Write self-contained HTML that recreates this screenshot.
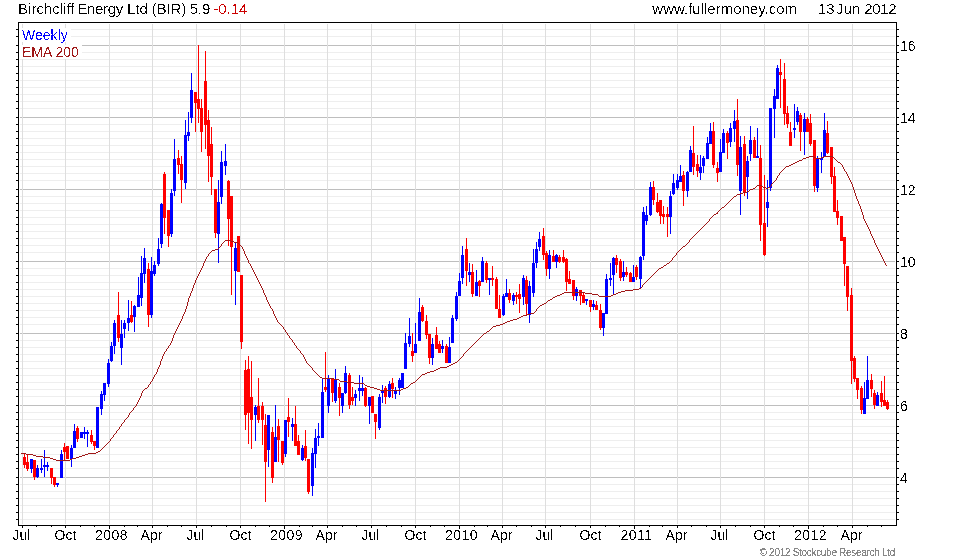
<!DOCTYPE html><html><head><meta charset="utf-8"><style>html,body{margin:0;padding:0;background:#fff;width:980px;height:560px;overflow:hidden}svg{display:block}text{font-family:"Liberation Sans",Arial,sans-serif}</style></head><body><div style="position:relative;width:980px;height:560px"><svg width="980" height="560" viewBox="0 0 980 560" shape-rendering="crispEdges"><rect x="20" y="29" width="875" height="1" fill="#eeeeee"/><rect x="20" y="36" width="875" height="1" fill="#eeeeee"/><rect x="20" y="45" width="875" height="1" fill="#bebebe"/><rect x="20" y="52" width="875" height="1" fill="#eeeeee"/><rect x="20" y="59" width="875" height="1" fill="#eeeeee"/><rect x="20" y="66" width="875" height="1" fill="#eeeeee"/><rect x="20" y="73" width="875" height="1" fill="#eeeeee"/><rect x="20" y="80" width="875" height="1" fill="#eeeeee"/><rect x="20" y="87" width="875" height="1" fill="#eeeeee"/><rect x="20" y="94" width="875" height="1" fill="#eeeeee"/><rect x="20" y="101" width="875" height="1" fill="#eeeeee"/><rect x="20" y="108" width="875" height="1" fill="#eeeeee"/><rect x="20" y="117" width="875" height="1" fill="#bebebe"/><rect x="20" y="124" width="875" height="1" fill="#eeeeee"/><rect x="20" y="131" width="875" height="1" fill="#eeeeee"/><rect x="20" y="138" width="875" height="1" fill="#eeeeee"/><rect x="20" y="145" width="875" height="1" fill="#eeeeee"/><rect x="20" y="152" width="875" height="1" fill="#eeeeee"/><rect x="20" y="159" width="875" height="1" fill="#eeeeee"/><rect x="20" y="166" width="875" height="1" fill="#eeeeee"/><rect x="20" y="173" width="875" height="1" fill="#eeeeee"/><rect x="20" y="180" width="875" height="1" fill="#eeeeee"/><rect x="20" y="189" width="875" height="1" fill="#bebebe"/><rect x="20" y="196" width="875" height="1" fill="#eeeeee"/><rect x="20" y="203" width="875" height="1" fill="#eeeeee"/><rect x="20" y="210" width="875" height="1" fill="#eeeeee"/><rect x="20" y="217" width="875" height="1" fill="#eeeeee"/><rect x="20" y="224" width="875" height="1" fill="#eeeeee"/><rect x="20" y="231" width="875" height="1" fill="#eeeeee"/><rect x="20" y="238" width="875" height="1" fill="#eeeeee"/><rect x="20" y="245" width="875" height="1" fill="#eeeeee"/><rect x="20" y="252" width="875" height="1" fill="#eeeeee"/><rect x="20" y="261" width="875" height="1" fill="#bebebe"/><rect x="20" y="268" width="875" height="1" fill="#eeeeee"/><rect x="20" y="275" width="875" height="1" fill="#eeeeee"/><rect x="20" y="282" width="875" height="1" fill="#eeeeee"/><rect x="20" y="289" width="875" height="1" fill="#eeeeee"/><rect x="20" y="296" width="875" height="1" fill="#eeeeee"/><rect x="20" y="303" width="875" height="1" fill="#eeeeee"/><rect x="20" y="310" width="875" height="1" fill="#eeeeee"/><rect x="20" y="317" width="875" height="1" fill="#eeeeee"/><rect x="20" y="324" width="875" height="1" fill="#eeeeee"/><rect x="20" y="333" width="875" height="1" fill="#bebebe"/><rect x="20" y="340" width="875" height="1" fill="#eeeeee"/><rect x="20" y="347" width="875" height="1" fill="#eeeeee"/><rect x="20" y="354" width="875" height="1" fill="#eeeeee"/><rect x="20" y="361" width="875" height="1" fill="#eeeeee"/><rect x="20" y="368" width="875" height="1" fill="#eeeeee"/><rect x="20" y="375" width="875" height="1" fill="#eeeeee"/><rect x="20" y="382" width="875" height="1" fill="#eeeeee"/><rect x="20" y="389" width="875" height="1" fill="#eeeeee"/><rect x="20" y="396" width="875" height="1" fill="#eeeeee"/><rect x="20" y="405" width="875" height="1" fill="#bebebe"/><rect x="20" y="412" width="875" height="1" fill="#eeeeee"/><rect x="20" y="419" width="875" height="1" fill="#eeeeee"/><rect x="20" y="426" width="875" height="1" fill="#eeeeee"/><rect x="20" y="433" width="875" height="1" fill="#eeeeee"/><rect x="20" y="440" width="875" height="1" fill="#eeeeee"/><rect x="20" y="447" width="875" height="1" fill="#eeeeee"/><rect x="20" y="454" width="875" height="1" fill="#eeeeee"/><rect x="20" y="461" width="875" height="1" fill="#eeeeee"/><rect x="20" y="468" width="875" height="1" fill="#eeeeee"/><rect x="20" y="477" width="875" height="1" fill="#bebebe"/><rect x="20" y="484" width="875" height="1" fill="#eeeeee"/><rect x="20" y="491" width="875" height="1" fill="#eeeeee"/><rect x="20" y="498" width="875" height="1" fill="#eeeeee"/><rect x="20" y="505" width="875" height="1" fill="#eeeeee"/><rect x="20" y="512" width="875" height="1" fill="#eeeeee"/><rect x="20" y="519" width="875" height="1" fill="#eeeeee"/><rect x="22" y="24" width="1" height="500" fill="#dedede"/><rect x="65" y="24" width="1" height="500" fill="#dedede"/><rect x="109" y="24" width="1" height="500" fill="#dedede"/><rect x="152" y="24" width="1" height="500" fill="#dedede"/><rect x="196" y="24" width="1" height="500" fill="#dedede"/><rect x="240" y="24" width="1" height="500" fill="#dedede"/><rect x="284" y="24" width="1" height="500" fill="#dedede"/><rect x="327" y="24" width="1" height="500" fill="#dedede"/><rect x="371" y="24" width="1" height="500" fill="#dedede"/><rect x="415" y="24" width="1" height="500" fill="#dedede"/><rect x="459" y="24" width="1" height="500" fill="#dedede"/><rect x="502" y="24" width="1" height="500" fill="#dedede"/><rect x="545" y="24" width="1" height="500" fill="#dedede"/><rect x="590" y="24" width="1" height="500" fill="#dedede"/><rect x="634" y="24" width="1" height="500" fill="#dedede"/><rect x="677" y="24" width="1" height="500" fill="#dedede"/><rect x="720" y="24" width="1" height="500" fill="#dedede"/><rect x="764" y="24" width="1" height="500" fill="#dedede"/><rect x="808" y="24" width="1" height="500" fill="#dedede"/><rect x="852" y="24" width="1" height="500" fill="#dedede"/><rect x="20" y="28" width="51" height="14" fill="#fff"/><rect x="20" y="45" width="62" height="14" fill="#fff"/><rect x="24" y="453" width="1" height="15" fill="#ff0000"/><rect x="23" y="457" width="3" height="8" fill="#ff0000"/><rect x="27" y="454" width="1" height="17" fill="#ff0000"/><rect x="26" y="462" width="3" height="7" fill="#ff0000"/><rect x="31" y="459" width="1" height="14" fill="#0000ff"/><rect x="30" y="459" width="3" height="10" fill="#0000ff"/><rect x="34" y="460" width="1" height="20" fill="#ff0000"/><rect x="33" y="460" width="3" height="17" fill="#ff0000"/><rect x="37" y="465" width="1" height="13" fill="#0000ff"/><rect x="36" y="468" width="3" height="9" fill="#0000ff"/><rect x="41" y="459" width="1" height="14" fill="#0000ff"/><rect x="40" y="468" width="3" height="2" fill="#0000ff"/><rect x="44" y="450" width="1" height="27" fill="#0000ff"/><rect x="43" y="465" width="3" height="2" fill="#0000ff"/><rect x="47" y="462" width="1" height="9" fill="#0000ff"/><rect x="46" y="465" width="3" height="2" fill="#0000ff"/><rect x="51" y="468" width="1" height="16" fill="#ff0000"/><rect x="50" y="468" width="3" height="10" fill="#ff0000"/><rect x="54" y="477" width="1" height="10" fill="#ff0000"/><rect x="53" y="477" width="3" height="8" fill="#ff0000"/><rect x="57" y="483" width="1" height="4" fill="#0000ff"/><rect x="56" y="483" width="3" height="2" fill="#0000ff"/><rect x="61" y="450" width="1" height="28" fill="#0000ff"/><rect x="60" y="454" width="3" height="24" fill="#0000ff"/><rect x="64" y="443" width="1" height="18" fill="#ff0000"/><rect x="63" y="447" width="3" height="5" fill="#ff0000"/><rect x="67" y="446" width="1" height="13" fill="#ff0000"/><rect x="66" y="446" width="3" height="13" fill="#ff0000"/><rect x="71" y="445" width="1" height="22" fill="#0000ff"/><rect x="70" y="448" width="3" height="11" fill="#0000ff"/><rect x="74" y="424" width="1" height="24" fill="#0000ff"/><rect x="73" y="431" width="3" height="17" fill="#0000ff"/><rect x="77" y="426" width="1" height="16" fill="#ff0000"/><rect x="76" y="428" width="3" height="11" fill="#ff0000"/><rect x="81" y="432" width="1" height="6" fill="#0000ff"/><rect x="80" y="432" width="3" height="6" fill="#0000ff"/><rect x="84" y="427" width="1" height="12" fill="#0000ff"/><rect x="83" y="432" width="3" height="2" fill="#0000ff"/><rect x="87" y="430" width="1" height="17" fill="#0000ff"/><rect x="86" y="432" width="3" height="2" fill="#0000ff"/><rect x="91" y="430" width="1" height="14" fill="#ff0000"/><rect x="90" y="435" width="3" height="7" fill="#ff0000"/><rect x="94" y="441" width="1" height="9" fill="#ff0000"/><rect x="93" y="441" width="3" height="5" fill="#ff0000"/><rect x="97" y="407" width="1" height="41" fill="#0000ff"/><rect x="96" y="407" width="3" height="41" fill="#0000ff"/><rect x="101" y="391" width="1" height="24" fill="#0000ff"/><rect x="100" y="394" width="3" height="15" fill="#0000ff"/><rect x="104" y="383" width="1" height="18" fill="#0000ff"/><rect x="103" y="383" width="3" height="12" fill="#0000ff"/><rect x="108" y="359" width="1" height="28" fill="#0000ff"/><rect x="107" y="363" width="3" height="21" fill="#0000ff"/><rect x="111" y="342" width="1" height="20" fill="#0000ff"/><rect x="110" y="346" width="3" height="15" fill="#0000ff"/><rect x="114" y="320" width="1" height="34" fill="#0000ff"/><rect x="113" y="323" width="3" height="23" fill="#0000ff"/><rect x="118" y="292" width="1" height="50" fill="#ff0000"/><rect x="117" y="315" width="3" height="23" fill="#ff0000"/><rect x="121" y="320" width="1" height="45" fill="#0000ff"/><rect x="120" y="334" width="3" height="14" fill="#0000ff"/><rect x="124" y="320" width="1" height="18" fill="#0000ff"/><rect x="123" y="323" width="3" height="6" fill="#0000ff"/><rect x="128" y="300" width="1" height="31" fill="#0000ff"/><rect x="127" y="318" width="3" height="5" fill="#0000ff"/><rect x="131" y="301" width="1" height="22" fill="#ff0000"/><rect x="130" y="315" width="3" height="7" fill="#ff0000"/><rect x="134" y="305" width="1" height="27" fill="#0000ff"/><rect x="133" y="306" width="3" height="11" fill="#0000ff"/><rect x="138" y="277" width="1" height="30" fill="#0000ff"/><rect x="137" y="295" width="3" height="12" fill="#0000ff"/><rect x="141" y="256" width="1" height="50" fill="#0000ff"/><rect x="140" y="273" width="3" height="25" fill="#0000ff"/><rect x="144" y="248" width="1" height="35" fill="#0000ff"/><rect x="143" y="258" width="3" height="16" fill="#0000ff"/><rect x="148" y="263" width="1" height="64" fill="#ff0000"/><rect x="147" y="269" width="3" height="46" fill="#ff0000"/><rect x="151" y="257" width="1" height="61" fill="#0000ff"/><rect x="150" y="271" width="3" height="44" fill="#0000ff"/><rect x="154" y="261" width="1" height="15" fill="#0000ff"/><rect x="153" y="265" width="3" height="9" fill="#0000ff"/><rect x="158" y="238" width="1" height="28" fill="#0000ff"/><rect x="157" y="249" width="3" height="15" fill="#0000ff"/><rect x="161" y="203" width="1" height="45" fill="#0000ff"/><rect x="160" y="204" width="3" height="40" fill="#0000ff"/><rect x="164" y="172" width="1" height="62" fill="#ff0000"/><rect x="163" y="174" width="3" height="44" fill="#ff0000"/><rect x="168" y="210" width="1" height="37" fill="#ff0000"/><rect x="167" y="210" width="3" height="26" fill="#ff0000"/><rect x="171" y="189" width="1" height="48" fill="#0000ff"/><rect x="170" y="193" width="3" height="41" fill="#0000ff"/><rect x="174" y="139" width="1" height="57" fill="#0000ff"/><rect x="173" y="159" width="3" height="32" fill="#0000ff"/><rect x="178" y="150" width="1" height="24" fill="#ff0000"/><rect x="177" y="158" width="3" height="7" fill="#ff0000"/><rect x="181" y="156" width="1" height="47" fill="#ff0000"/><rect x="180" y="164" width="3" height="16" fill="#ff0000"/><rect x="185" y="120" width="1" height="69" fill="#0000ff"/><rect x="184" y="135" width="3" height="48" fill="#0000ff"/><rect x="188" y="112" width="1" height="29" fill="#0000ff"/><rect x="187" y="132" width="3" height="4" fill="#0000ff"/><rect x="191" y="73" width="1" height="50" fill="#0000ff"/><rect x="190" y="90" width="3" height="28" fill="#0000ff"/><rect x="195" y="92" width="1" height="40" fill="#ff0000"/><rect x="194" y="92" width="3" height="11" fill="#ff0000"/><rect x="198" y="45" width="1" height="78" fill="#ff0000"/><rect x="197" y="99" width="3" height="10" fill="#ff0000"/><rect x="201" y="99" width="1" height="53" fill="#ff0000"/><rect x="200" y="108" width="3" height="24" fill="#ff0000"/><rect x="205" y="51" width="1" height="98" fill="#ff0000"/><rect x="204" y="81" width="3" height="44" fill="#ff0000"/><rect x="208" y="110" width="1" height="72" fill="#ff0000"/><rect x="207" y="120" width="3" height="36" fill="#ff0000"/><rect x="211" y="127" width="1" height="68" fill="#ff0000"/><rect x="210" y="144" width="3" height="33" fill="#ff0000"/><rect x="215" y="189" width="1" height="49" fill="#ff0000"/><rect x="214" y="189" width="3" height="44" fill="#ff0000"/><rect x="218" y="180" width="1" height="83" fill="#0000ff"/><rect x="217" y="202" width="3" height="32" fill="#0000ff"/><rect x="221" y="151" width="1" height="53" fill="#0000ff"/><rect x="220" y="162" width="3" height="35" fill="#0000ff"/><rect x="225" y="144" width="1" height="31" fill="#0000ff"/><rect x="224" y="161" width="3" height="5" fill="#0000ff"/><rect x="228" y="180" width="1" height="66" fill="#ff0000"/><rect x="227" y="181" width="3" height="38" fill="#ff0000"/><rect x="231" y="196" width="1" height="99" fill="#ff0000"/><rect x="230" y="196" width="3" height="51" fill="#ff0000"/><rect x="235" y="242" width="1" height="63" fill="#0000ff"/><rect x="234" y="248" width="3" height="23" fill="#0000ff"/><rect x="238" y="236" width="1" height="36" fill="#ff0000"/><rect x="237" y="236" width="3" height="36" fill="#ff0000"/><rect x="241" y="275" width="1" height="74" fill="#ff0000"/><rect x="240" y="275" width="3" height="67" fill="#ff0000"/><rect x="245" y="360" width="1" height="70" fill="#ff0000"/><rect x="244" y="370" width="3" height="45" fill="#ff0000"/><rect x="248" y="356" width="1" height="88" fill="#ff0000"/><rect x="247" y="369" width="3" height="44" fill="#ff0000"/><rect x="251" y="361" width="1" height="88" fill="#ff0000"/><rect x="250" y="397" width="3" height="23" fill="#ff0000"/><rect x="255" y="405" width="1" height="36" fill="#0000ff"/><rect x="254" y="407" width="3" height="8" fill="#0000ff"/><rect x="258" y="378" width="1" height="45" fill="#ff0000"/><rect x="257" y="406" width="3" height="14" fill="#ff0000"/><rect x="262" y="402" width="1" height="43" fill="#ff0000"/><rect x="261" y="406" width="3" height="14" fill="#ff0000"/><rect x="265" y="414" width="1" height="88" fill="#ff0000"/><rect x="264" y="425" width="3" height="37" fill="#ff0000"/><rect x="268" y="415" width="1" height="52" fill="#0000ff"/><rect x="267" y="415" width="3" height="35" fill="#0000ff"/><rect x="272" y="427" width="1" height="56" fill="#ff0000"/><rect x="271" y="432" width="3" height="46" fill="#ff0000"/><rect x="275" y="405" width="1" height="57" fill="#0000ff"/><rect x="274" y="437" width="3" height="25" fill="#0000ff"/><rect x="278" y="419" width="1" height="43" fill="#ff0000"/><rect x="277" y="426" width="3" height="14" fill="#ff0000"/><rect x="282" y="441" width="1" height="24" fill="#ff0000"/><rect x="281" y="441" width="3" height="22" fill="#ff0000"/><rect x="285" y="420" width="1" height="37" fill="#0000ff"/><rect x="284" y="420" width="3" height="34" fill="#0000ff"/><rect x="288" y="398" width="1" height="39" fill="#ff0000"/><rect x="287" y="417" width="3" height="5" fill="#ff0000"/><rect x="292" y="418" width="1" height="23" fill="#0000ff"/><rect x="291" y="424" width="3" height="3" fill="#0000ff"/><rect x="295" y="406" width="1" height="40" fill="#ff0000"/><rect x="294" y="424" width="3" height="22" fill="#ff0000"/><rect x="298" y="435" width="1" height="20" fill="#ff0000"/><rect x="297" y="441" width="3" height="14" fill="#ff0000"/><rect x="302" y="445" width="1" height="16" fill="#0000ff"/><rect x="301" y="448" width="3" height="12" fill="#0000ff"/><rect x="305" y="430" width="1" height="31" fill="#ff0000"/><rect x="304" y="446" width="3" height="12" fill="#ff0000"/><rect x="308" y="459" width="1" height="35" fill="#ff0000"/><rect x="307" y="459" width="3" height="33" fill="#ff0000"/><rect x="312" y="448" width="1" height="48" fill="#0000ff"/><rect x="311" y="453" width="3" height="33" fill="#0000ff"/><rect x="315" y="429" width="1" height="39" fill="#0000ff"/><rect x="314" y="438" width="3" height="16" fill="#0000ff"/><rect x="318" y="423" width="1" height="23" fill="#0000ff"/><rect x="317" y="436" width="3" height="2" fill="#0000ff"/><rect x="322" y="378" width="1" height="60" fill="#0000ff"/><rect x="321" y="392" width="3" height="46" fill="#0000ff"/><rect x="325" y="352" width="1" height="40" fill="#ff0000"/><rect x="324" y="387" width="3" height="3" fill="#ff0000"/><rect x="328" y="375" width="1" height="38" fill="#0000ff"/><rect x="327" y="379" width="3" height="27" fill="#0000ff"/><rect x="332" y="378" width="1" height="24" fill="#ff0000"/><rect x="331" y="379" width="3" height="14" fill="#ff0000"/><rect x="335" y="369" width="1" height="34" fill="#0000ff"/><rect x="334" y="380" width="3" height="21" fill="#0000ff"/><rect x="339" y="383" width="1" height="33" fill="#ff0000"/><rect x="338" y="387" width="3" height="11" fill="#ff0000"/><rect x="342" y="393" width="1" height="20" fill="#0000ff"/><rect x="341" y="393" width="3" height="13" fill="#0000ff"/><rect x="345" y="366" width="1" height="28" fill="#0000ff"/><rect x="344" y="373" width="3" height="20" fill="#0000ff"/><rect x="349" y="373" width="1" height="36" fill="#ff0000"/><rect x="348" y="375" width="3" height="30" fill="#ff0000"/><rect x="352" y="387" width="1" height="18" fill="#ff0000"/><rect x="351" y="397" width="3" height="4" fill="#ff0000"/><rect x="355" y="390" width="1" height="16" fill="#0000ff"/><rect x="354" y="394" width="3" height="4" fill="#0000ff"/><rect x="359" y="375" width="1" height="26" fill="#0000ff"/><rect x="358" y="388" width="3" height="3" fill="#0000ff"/><rect x="362" y="377" width="1" height="19" fill="#0000ff"/><rect x="361" y="388" width="3" height="3" fill="#0000ff"/><rect x="365" y="387" width="1" height="20" fill="#ff0000"/><rect x="364" y="388" width="3" height="18" fill="#ff0000"/><rect x="369" y="397" width="1" height="27" fill="#0000ff"/><rect x="368" y="397" width="3" height="9" fill="#0000ff"/><rect x="372" y="396" width="1" height="17" fill="#ff0000"/><rect x="371" y="396" width="3" height="17" fill="#ff0000"/><rect x="375" y="414" width="1" height="25" fill="#ff0000"/><rect x="374" y="414" width="3" height="8" fill="#ff0000"/><rect x="379" y="394" width="1" height="36" fill="#0000ff"/><rect x="378" y="397" width="3" height="31" fill="#0000ff"/><rect x="382" y="385" width="1" height="18" fill="#0000ff"/><rect x="381" y="390" width="3" height="3" fill="#0000ff"/><rect x="385" y="386" width="1" height="18" fill="#ff0000"/><rect x="384" y="388" width="3" height="9" fill="#ff0000"/><rect x="389" y="381" width="1" height="17" fill="#0000ff"/><rect x="388" y="384" width="3" height="13" fill="#0000ff"/><rect x="392" y="378" width="1" height="20" fill="#ff0000"/><rect x="391" y="383" width="3" height="6" fill="#ff0000"/><rect x="395" y="387" width="1" height="12" fill="#0000ff"/><rect x="394" y="391" width="3" height="3" fill="#0000ff"/><rect x="399" y="378" width="1" height="17" fill="#0000ff"/><rect x="398" y="380" width="3" height="8" fill="#0000ff"/><rect x="402" y="373" width="1" height="15" fill="#0000ff"/><rect x="401" y="373" width="3" height="15" fill="#0000ff"/><rect x="405" y="333" width="1" height="36" fill="#0000ff"/><rect x="404" y="343" width="3" height="26" fill="#0000ff"/><rect x="409" y="318" width="1" height="29" fill="#0000ff"/><rect x="408" y="336" width="3" height="8" fill="#0000ff"/><rect x="412" y="333" width="1" height="29" fill="#ff0000"/><rect x="411" y="351" width="3" height="5" fill="#ff0000"/><rect x="415" y="323" width="1" height="30" fill="#0000ff"/><rect x="414" y="344" width="3" height="9" fill="#0000ff"/><rect x="419" y="298" width="1" height="43" fill="#0000ff"/><rect x="418" y="312" width="3" height="29" fill="#0000ff"/><rect x="422" y="305" width="1" height="17" fill="#ff0000"/><rect x="421" y="307" width="3" height="14" fill="#ff0000"/><rect x="426" y="315" width="1" height="24" fill="#ff0000"/><rect x="425" y="321" width="3" height="14" fill="#ff0000"/><rect x="429" y="334" width="1" height="30" fill="#ff0000"/><rect x="428" y="334" width="3" height="24" fill="#ff0000"/><rect x="432" y="338" width="1" height="27" fill="#0000ff"/><rect x="431" y="344" width="3" height="14" fill="#0000ff"/><rect x="436" y="327" width="1" height="22" fill="#ff0000"/><rect x="435" y="335" width="3" height="14" fill="#ff0000"/><rect x="439" y="341" width="1" height="12" fill="#ff0000"/><rect x="438" y="344" width="3" height="9" fill="#ff0000"/><rect x="442" y="340" width="1" height="13" fill="#0000ff"/><rect x="441" y="346" width="3" height="3" fill="#0000ff"/><rect x="446" y="344" width="1" height="19" fill="#ff0000"/><rect x="445" y="346" width="3" height="17" fill="#ff0000"/><rect x="449" y="337" width="1" height="26" fill="#0000ff"/><rect x="448" y="347" width="3" height="16" fill="#0000ff"/><rect x="452" y="315" width="1" height="28" fill="#0000ff"/><rect x="451" y="318" width="3" height="25" fill="#0000ff"/><rect x="456" y="292" width="1" height="29" fill="#0000ff"/><rect x="455" y="296" width="3" height="23" fill="#0000ff"/><rect x="459" y="273" width="1" height="23" fill="#0000ff"/><rect x="458" y="281" width="3" height="15" fill="#0000ff"/><rect x="462" y="246" width="1" height="38" fill="#0000ff"/><rect x="461" y="255" width="3" height="23" fill="#0000ff"/><rect x="466" y="238" width="1" height="48" fill="#ff0000"/><rect x="465" y="249" width="3" height="22" fill="#ff0000"/><rect x="469" y="263" width="1" height="19" fill="#0000ff"/><rect x="468" y="272" width="3" height="3" fill="#0000ff"/><rect x="472" y="264" width="1" height="33" fill="#ff0000"/><rect x="471" y="272" width="3" height="22" fill="#ff0000"/><rect x="476" y="270" width="1" height="26" fill="#0000ff"/><rect x="475" y="282" width="3" height="14" fill="#0000ff"/><rect x="479" y="280" width="1" height="17" fill="#ff0000"/><rect x="478" y="281" width="3" height="5" fill="#ff0000"/><rect x="482" y="257" width="1" height="25" fill="#0000ff"/><rect x="481" y="261" width="3" height="21" fill="#0000ff"/><rect x="486" y="261" width="1" height="22" fill="#ff0000"/><rect x="485" y="263" width="3" height="17" fill="#ff0000"/><rect x="489" y="278" width="1" height="17" fill="#0000ff"/><rect x="488" y="278" width="3" height="2" fill="#0000ff"/><rect x="492" y="266" width="1" height="20" fill="#ff0000"/><rect x="491" y="278" width="3" height="2" fill="#ff0000"/><rect x="496" y="277" width="1" height="32" fill="#ff0000"/><rect x="495" y="279" width="3" height="30" fill="#ff0000"/><rect x="499" y="295" width="1" height="23" fill="#ff0000"/><rect x="498" y="309" width="3" height="9" fill="#ff0000"/><rect x="503" y="294" width="1" height="22" fill="#0000ff"/><rect x="502" y="296" width="3" height="19" fill="#0000ff"/><rect x="506" y="279" width="1" height="18" fill="#0000ff"/><rect x="505" y="293" width="3" height="4" fill="#0000ff"/><rect x="509" y="289" width="1" height="14" fill="#ff0000"/><rect x="508" y="293" width="3" height="7" fill="#ff0000"/><rect x="513" y="293" width="1" height="12" fill="#0000ff"/><rect x="512" y="295" width="3" height="6" fill="#0000ff"/><rect x="516" y="292" width="1" height="12" fill="#ff0000"/><rect x="515" y="295" width="3" height="2" fill="#ff0000"/><rect x="519" y="284" width="1" height="29" fill="#ff0000"/><rect x="518" y="294" width="3" height="5" fill="#ff0000"/><rect x="523" y="275" width="1" height="30" fill="#0000ff"/><rect x="522" y="278" width="3" height="19" fill="#0000ff"/><rect x="526" y="276" width="1" height="39" fill="#ff0000"/><rect x="525" y="280" width="3" height="24" fill="#ff0000"/><rect x="529" y="281" width="1" height="42" fill="#0000ff"/><rect x="528" y="286" width="3" height="29" fill="#0000ff"/><rect x="533" y="249" width="1" height="48" fill="#0000ff"/><rect x="532" y="263" width="3" height="30" fill="#0000ff"/><rect x="536" y="242" width="1" height="26" fill="#0000ff"/><rect x="535" y="249" width="3" height="14" fill="#0000ff"/><rect x="539" y="232" width="1" height="19" fill="#0000ff"/><rect x="538" y="239" width="3" height="8" fill="#0000ff"/><rect x="543" y="228" width="1" height="32" fill="#ff0000"/><rect x="542" y="236" width="3" height="19" fill="#ff0000"/><rect x="546" y="251" width="1" height="25" fill="#ff0000"/><rect x="545" y="253" width="3" height="16" fill="#ff0000"/><rect x="549" y="250" width="1" height="29" fill="#0000ff"/><rect x="548" y="255" width="3" height="14" fill="#0000ff"/><rect x="553" y="250" width="1" height="12" fill="#ff0000"/><rect x="552" y="256" width="3" height="6" fill="#ff0000"/><rect x="556" y="254" width="1" height="14" fill="#0000ff"/><rect x="555" y="255" width="3" height="7" fill="#0000ff"/><rect x="559" y="255" width="1" height="8" fill="#ff0000"/><rect x="558" y="257" width="3" height="5" fill="#ff0000"/><rect x="563" y="250" width="1" height="13" fill="#ff0000"/><rect x="562" y="257" width="3" height="5" fill="#ff0000"/><rect x="566" y="258" width="1" height="33" fill="#ff0000"/><rect x="565" y="259" width="3" height="23" fill="#ff0000"/><rect x="569" y="271" width="1" height="13" fill="#ff0000"/><rect x="568" y="279" width="3" height="5" fill="#ff0000"/><rect x="573" y="280" width="1" height="20" fill="#ff0000"/><rect x="572" y="280" width="3" height="16" fill="#ff0000"/><rect x="576" y="287" width="1" height="14" fill="#0000ff"/><rect x="575" y="289" width="3" height="7" fill="#0000ff"/><rect x="580" y="290" width="1" height="15" fill="#ff0000"/><rect x="579" y="290" width="3" height="6" fill="#ff0000"/><rect x="583" y="293" width="1" height="10" fill="#ff0000"/><rect x="582" y="295" width="3" height="8" fill="#ff0000"/><rect x="586" y="299" width="1" height="6" fill="#0000ff"/><rect x="585" y="299" width="3" height="2" fill="#0000ff"/><rect x="590" y="300" width="1" height="12" fill="#ff0000"/><rect x="589" y="300" width="3" height="7" fill="#ff0000"/><rect x="593" y="300" width="1" height="10" fill="#0000ff"/><rect x="592" y="304" width="3" height="3" fill="#0000ff"/><rect x="596" y="301" width="1" height="9" fill="#ff0000"/><rect x="595" y="305" width="3" height="5" fill="#ff0000"/><rect x="600" y="304" width="1" height="26" fill="#ff0000"/><rect x="599" y="310" width="3" height="18" fill="#ff0000"/><rect x="603" y="313" width="1" height="23" fill="#0000ff"/><rect x="602" y="313" width="3" height="15" fill="#0000ff"/><rect x="606" y="274" width="1" height="40" fill="#0000ff"/><rect x="605" y="279" width="3" height="35" fill="#0000ff"/><rect x="610" y="263" width="1" height="23" fill="#0000ff"/><rect x="609" y="278" width="3" height="2" fill="#0000ff"/><rect x="613" y="257" width="1" height="38" fill="#0000ff"/><rect x="612" y="258" width="3" height="17" fill="#0000ff"/><rect x="616" y="255" width="1" height="18" fill="#ff0000"/><rect x="615" y="258" width="3" height="7" fill="#ff0000"/><rect x="620" y="259" width="1" height="22" fill="#ff0000"/><rect x="619" y="261" width="3" height="17" fill="#ff0000"/><rect x="623" y="261" width="1" height="20" fill="#0000ff"/><rect x="622" y="272" width="3" height="5" fill="#0000ff"/><rect x="626" y="267" width="1" height="10" fill="#ff0000"/><rect x="625" y="272" width="3" height="3" fill="#ff0000"/><rect x="630" y="272" width="1" height="10" fill="#ff0000"/><rect x="629" y="273" width="3" height="9" fill="#ff0000"/><rect x="633" y="265" width="1" height="17" fill="#0000ff"/><rect x="632" y="277" width="3" height="5" fill="#0000ff"/><rect x="636" y="265" width="1" height="15" fill="#ff0000"/><rect x="635" y="267" width="3" height="10" fill="#ff0000"/><rect x="640" y="256" width="1" height="32" fill="#0000ff"/><rect x="639" y="257" width="3" height="22" fill="#0000ff"/><rect x="643" y="207" width="1" height="53" fill="#0000ff"/><rect x="642" y="212" width="3" height="44" fill="#0000ff"/><rect x="646" y="206" width="1" height="19" fill="#0000ff"/><rect x="645" y="215" width="3" height="6" fill="#0000ff"/><rect x="650" y="182" width="1" height="34" fill="#0000ff"/><rect x="649" y="187" width="3" height="28" fill="#0000ff"/><rect x="653" y="181" width="1" height="24" fill="#ff0000"/><rect x="652" y="187" width="3" height="13" fill="#ff0000"/><rect x="657" y="193" width="1" height="20" fill="#ff0000"/><rect x="656" y="202" width="3" height="10" fill="#ff0000"/><rect x="660" y="200" width="1" height="24" fill="#ff0000"/><rect x="659" y="200" width="3" height="16" fill="#ff0000"/><rect x="663" y="206" width="1" height="18" fill="#ff0000"/><rect x="662" y="214" width="3" height="3" fill="#ff0000"/><rect x="667" y="207" width="1" height="30" fill="#ff0000"/><rect x="666" y="214" width="3" height="3" fill="#ff0000"/><rect x="670" y="191" width="1" height="43" fill="#0000ff"/><rect x="669" y="196" width="3" height="21" fill="#0000ff"/><rect x="673" y="174" width="1" height="21" fill="#0000ff"/><rect x="672" y="183" width="3" height="11" fill="#0000ff"/><rect x="677" y="174" width="1" height="16" fill="#0000ff"/><rect x="676" y="180" width="3" height="8" fill="#0000ff"/><rect x="680" y="165" width="1" height="17" fill="#0000ff"/><rect x="679" y="176" width="3" height="6" fill="#0000ff"/><rect x="683" y="171" width="1" height="35" fill="#ff0000"/><rect x="682" y="175" width="3" height="16" fill="#ff0000"/><rect x="687" y="171" width="1" height="26" fill="#0000ff"/><rect x="686" y="172" width="3" height="19" fill="#0000ff"/><rect x="690" y="146" width="1" height="26" fill="#0000ff"/><rect x="689" y="150" width="3" height="22" fill="#0000ff"/><rect x="693" y="126" width="1" height="49" fill="#ff0000"/><rect x="692" y="153" width="3" height="14" fill="#ff0000"/><rect x="697" y="155" width="1" height="22" fill="#ff0000"/><rect x="696" y="164" width="3" height="7" fill="#ff0000"/><rect x="700" y="155" width="1" height="25" fill="#0000ff"/><rect x="699" y="167" width="3" height="6" fill="#0000ff"/><rect x="703" y="156" width="1" height="17" fill="#0000ff"/><rect x="702" y="158" width="3" height="8" fill="#0000ff"/><rect x="707" y="137" width="1" height="22" fill="#0000ff"/><rect x="706" y="143" width="3" height="16" fill="#0000ff"/><rect x="710" y="123" width="1" height="21" fill="#0000ff"/><rect x="709" y="131" width="3" height="13" fill="#0000ff"/><rect x="713" y="122" width="1" height="46" fill="#ff0000"/><rect x="712" y="131" width="3" height="34" fill="#ff0000"/><rect x="717" y="162" width="1" height="20" fill="#ff0000"/><rect x="716" y="168" width="3" height="5" fill="#ff0000"/><rect x="720" y="139" width="1" height="33" fill="#0000ff"/><rect x="719" y="152" width="3" height="20" fill="#0000ff"/><rect x="723" y="129" width="1" height="24" fill="#0000ff"/><rect x="722" y="133" width="3" height="20" fill="#0000ff"/><rect x="727" y="131" width="1" height="28" fill="#ff0000"/><rect x="726" y="133" width="3" height="10" fill="#ff0000"/><rect x="730" y="123" width="1" height="24" fill="#0000ff"/><rect x="729" y="128" width="3" height="14" fill="#0000ff"/><rect x="734" y="110" width="1" height="32" fill="#0000ff"/><rect x="733" y="121" width="3" height="8" fill="#0000ff"/><rect x="737" y="99" width="1" height="77" fill="#ff0000"/><rect x="736" y="120" width="3" height="45" fill="#ff0000"/><rect x="740" y="136" width="1" height="79" fill="#0000ff"/><rect x="739" y="147" width="3" height="44" fill="#0000ff"/><rect x="744" y="136" width="1" height="60" fill="#ff0000"/><rect x="743" y="144" width="3" height="49" fill="#ff0000"/><rect x="747" y="156" width="1" height="43" fill="#0000ff"/><rect x="746" y="161" width="3" height="16" fill="#0000ff"/><rect x="750" y="126" width="1" height="35" fill="#0000ff"/><rect x="749" y="140" width="3" height="14" fill="#0000ff"/><rect x="754" y="137" width="1" height="21" fill="#ff0000"/><rect x="753" y="140" width="3" height="18" fill="#ff0000"/><rect x="757" y="128" width="1" height="30" fill="#0000ff"/><rect x="756" y="156" width="3" height="2" fill="#0000ff"/><rect x="760" y="145" width="1" height="96" fill="#ff0000"/><rect x="759" y="158" width="3" height="67" fill="#ff0000"/><rect x="764" y="175" width="1" height="81" fill="#ff0000"/><rect x="763" y="223" width="3" height="32" fill="#ff0000"/><rect x="767" y="180" width="1" height="47" fill="#0000ff"/><rect x="766" y="202" width="3" height="6" fill="#0000ff"/><rect x="770" y="108" width="1" height="83" fill="#0000ff"/><rect x="769" y="108" width="3" height="80" fill="#0000ff"/><rect x="774" y="89" width="1" height="49" fill="#0000ff"/><rect x="773" y="96" width="3" height="13" fill="#0000ff"/><rect x="777" y="65" width="1" height="34" fill="#0000ff"/><rect x="776" y="68" width="3" height="31" fill="#0000ff"/><rect x="780" y="59" width="1" height="49" fill="#ff0000"/><rect x="779" y="72" width="3" height="3" fill="#ff0000"/><rect x="784" y="63" width="1" height="62" fill="#ff0000"/><rect x="783" y="79" width="3" height="35" fill="#ff0000"/><rect x="787" y="106" width="1" height="22" fill="#ff0000"/><rect x="786" y="113" width="3" height="11" fill="#ff0000"/><rect x="790" y="122" width="1" height="24" fill="#ff0000"/><rect x="789" y="132" width="3" height="14" fill="#ff0000"/><rect x="794" y="104" width="1" height="34" fill="#0000ff"/><rect x="793" y="128" width="3" height="2" fill="#0000ff"/><rect x="797" y="107" width="1" height="18" fill="#0000ff"/><rect x="796" y="111" width="3" height="11" fill="#0000ff"/><rect x="800" y="113" width="1" height="38" fill="#ff0000"/><rect x="799" y="115" width="3" height="17" fill="#ff0000"/><rect x="804" y="113" width="1" height="42" fill="#0000ff"/><rect x="803" y="119" width="3" height="13" fill="#0000ff"/><rect x="807" y="117" width="1" height="15" fill="#ff0000"/><rect x="806" y="119" width="3" height="13" fill="#ff0000"/><rect x="810" y="114" width="1" height="32" fill="#ff0000"/><rect x="809" y="123" width="3" height="21" fill="#ff0000"/><rect x="814" y="140" width="1" height="52" fill="#ff0000"/><rect x="813" y="140" width="3" height="46" fill="#ff0000"/><rect x="817" y="156" width="1" height="36" fill="#0000ff"/><rect x="816" y="158" width="3" height="30" fill="#0000ff"/><rect x="821" y="152" width="1" height="21" fill="#0000ff"/><rect x="820" y="158" width="3" height="2" fill="#0000ff"/><rect x="824" y="113" width="1" height="44" fill="#0000ff"/><rect x="823" y="130" width="3" height="27" fill="#0000ff"/><rect x="827" y="121" width="1" height="33" fill="#ff0000"/><rect x="826" y="133" width="3" height="20" fill="#ff0000"/><rect x="831" y="147" width="1" height="37" fill="#ff0000"/><rect x="830" y="147" width="3" height="30" fill="#ff0000"/><rect x="834" y="167" width="1" height="45" fill="#ff0000"/><rect x="833" y="176" width="3" height="36" fill="#ff0000"/><rect x="837" y="200" width="1" height="25" fill="#ff0000"/><rect x="836" y="211" width="3" height="7" fill="#ff0000"/><rect x="841" y="216" width="1" height="25" fill="#ff0000"/><rect x="840" y="216" width="3" height="25" fill="#ff0000"/><rect x="844" y="237" width="1" height="49" fill="#ff0000"/><rect x="843" y="237" width="3" height="27" fill="#ff0000"/><rect x="847" y="266" width="1" height="45" fill="#ff0000"/><rect x="846" y="266" width="3" height="31" fill="#ff0000"/><rect x="851" y="288" width="1" height="96" fill="#ff0000"/><rect x="850" y="295" width="3" height="66" fill="#ff0000"/><rect x="854" y="356" width="1" height="26" fill="#ff0000"/><rect x="853" y="358" width="3" height="21" fill="#ff0000"/><rect x="857" y="378" width="1" height="21" fill="#ff0000"/><rect x="856" y="378" width="3" height="12" fill="#ff0000"/><rect x="861" y="386" width="1" height="28" fill="#ff0000"/><rect x="860" y="388" width="3" height="22" fill="#ff0000"/><rect x="864" y="382" width="1" height="32" fill="#0000ff"/><rect x="863" y="398" width="3" height="16" fill="#0000ff"/><rect x="867" y="356" width="1" height="43" fill="#0000ff"/><rect x="866" y="380" width="3" height="19" fill="#0000ff"/><rect x="871" y="374" width="1" height="23" fill="#ff0000"/><rect x="870" y="380" width="3" height="9" fill="#ff0000"/><rect x="874" y="390" width="1" height="19" fill="#ff0000"/><rect x="873" y="393" width="3" height="12" fill="#ff0000"/><rect x="877" y="392" width="1" height="14" fill="#0000ff"/><rect x="876" y="395" width="3" height="11" fill="#0000ff"/><rect x="881" y="381" width="1" height="26" fill="#ff0000"/><rect x="880" y="393" width="3" height="9" fill="#ff0000"/><rect x="884" y="376" width="1" height="30" fill="#ff0000"/><rect x="883" y="400" width="3" height="6" fill="#ff0000"/><rect x="887" y="400" width="1" height="10" fill="#ff0000"/><rect x="886" y="402" width="3" height="7" fill="#ff0000"/><rect x="21" y="453" width="1" height="1" fill="#a01818"/><rect x="22" y="453" width="1" height="1" fill="#a01818"/><rect x="23" y="453" width="1" height="1" fill="#a01818"/><rect x="24" y="453" width="1" height="1" fill="#a01818"/><rect x="25" y="453" width="1" height="1" fill="#a01818"/><rect x="26" y="454" width="1" height="1" fill="#a01818"/><rect x="27" y="454" width="1" height="1" fill="#a01818"/><rect x="28" y="454" width="1" height="1" fill="#a01818"/><rect x="29" y="454" width="1" height="1" fill="#a01818"/><rect x="30" y="454" width="1" height="1" fill="#a01818"/><rect x="31" y="454" width="1" height="1" fill="#a01818"/><rect x="32" y="454" width="1" height="1" fill="#a01818"/><rect x="33" y="455" width="1" height="1" fill="#a01818"/><rect x="34" y="455" width="1" height="1" fill="#a01818"/><rect x="35" y="455" width="1" height="1" fill="#a01818"/><rect x="36" y="456" width="1" height="1" fill="#a01818"/><rect x="37" y="456" width="1" height="1" fill="#a01818"/><rect x="38" y="456" width="1" height="1" fill="#a01818"/><rect x="39" y="456" width="1" height="1" fill="#a01818"/><rect x="40" y="456" width="1" height="1" fill="#a01818"/><rect x="41" y="456" width="1" height="1" fill="#a01818"/><rect x="42" y="456" width="1" height="1" fill="#a01818"/><rect x="43" y="457" width="1" height="1" fill="#a01818"/><rect x="44" y="457" width="1" height="1" fill="#a01818"/><rect x="45" y="457" width="1" height="1" fill="#a01818"/><rect x="46" y="457" width="1" height="1" fill="#a01818"/><rect x="47" y="457" width="1" height="1" fill="#a01818"/><rect x="48" y="457" width="1" height="1" fill="#a01818"/><rect x="49" y="457" width="1" height="1" fill="#a01818"/><rect x="50" y="458" width="1" height="1" fill="#a01818"/><rect x="51" y="458" width="1" height="1" fill="#a01818"/><rect x="52" y="458" width="1" height="1" fill="#a01818"/><rect x="53" y="459" width="1" height="1" fill="#a01818"/><rect x="54" y="459" width="1" height="1" fill="#a01818"/><rect x="55" y="459" width="1" height="1" fill="#a01818"/><rect x="56" y="460" width="1" height="1" fill="#a01818"/><rect x="57" y="460" width="1" height="1" fill="#a01818"/><rect x="58" y="460" width="1" height="1" fill="#a01818"/><rect x="59" y="460" width="1" height="1" fill="#a01818"/><rect x="60" y="460" width="1" height="1" fill="#a01818"/><rect x="61" y="460" width="1" height="1" fill="#a01818"/><rect x="62" y="460" width="1" height="1" fill="#a01818"/><rect x="63" y="460" width="1" height="1" fill="#a01818"/><rect x="64" y="460" width="1" height="1" fill="#a01818"/><rect x="65" y="460" width="1" height="1" fill="#a01818"/><rect x="66" y="460" width="1" height="1" fill="#a01818"/><rect x="67" y="460" width="1" height="1" fill="#a01818"/><rect x="68" y="460" width="1" height="1" fill="#a01818"/><rect x="69" y="460" width="1" height="1" fill="#a01818"/><rect x="70" y="459" width="1" height="1" fill="#a01818"/><rect x="71" y="459" width="1" height="1" fill="#a01818"/><rect x="72" y="458" width="1" height="1" fill="#a01818"/><rect x="73" y="458" width="1" height="1" fill="#a01818"/><rect x="74" y="458" width="1" height="1" fill="#a01818"/><rect x="75" y="458" width="1" height="1" fill="#a01818"/><rect x="76" y="457" width="1" height="1" fill="#a01818"/><rect x="77" y="457" width="1" height="1" fill="#a01818"/><rect x="78" y="457" width="1" height="1" fill="#a01818"/><rect x="79" y="456" width="1" height="1" fill="#a01818"/><rect x="80" y="456" width="1" height="1" fill="#a01818"/><rect x="81" y="456" width="1" height="1" fill="#a01818"/><rect x="82" y="455" width="1" height="1" fill="#a01818"/><rect x="83" y="455" width="1" height="1" fill="#a01818"/><rect x="84" y="455" width="1" height="1" fill="#a01818"/><rect x="85" y="454" width="1" height="1" fill="#a01818"/><rect x="86" y="454" width="1" height="1" fill="#a01818"/><rect x="87" y="454" width="1" height="1" fill="#a01818"/><rect x="88" y="453" width="1" height="1" fill="#a01818"/><rect x="89" y="453" width="1" height="1" fill="#a01818"/><rect x="90" y="453" width="1" height="1" fill="#a01818"/><rect x="91" y="453" width="1" height="1" fill="#a01818"/><rect x="92" y="453" width="1" height="1" fill="#a01818"/><rect x="93" y="453" width="1" height="1" fill="#a01818"/><rect x="94" y="453" width="1" height="1" fill="#a01818"/><rect x="95" y="453" width="1" height="1" fill="#a01818"/><rect x="96" y="452" width="1" height="1" fill="#a01818"/><rect x="97" y="452" width="1" height="1" fill="#a01818"/><rect x="98" y="451" width="1" height="1" fill="#a01818"/><rect x="99" y="451" width="1" height="1" fill="#a01818"/><rect x="100" y="450" width="1" height="1" fill="#a01818"/><rect x="101" y="449" width="1" height="1" fill="#a01818"/><rect x="102" y="448" width="1" height="1" fill="#a01818"/><rect x="103" y="447" width="1" height="1" fill="#a01818"/><rect x="104" y="446" width="1" height="1" fill="#a01818"/><rect x="105" y="445" width="1" height="1" fill="#a01818"/><rect x="106" y="444" width="1" height="1" fill="#a01818"/><rect x="107" y="443" width="1" height="1" fill="#a01818"/><rect x="108" y="442" width="1" height="1" fill="#a01818"/><rect x="109" y="441" width="1" height="1" fill="#a01818"/><rect x="110" y="439" width="1" height="2" fill="#a01818"/><rect x="111" y="438" width="1" height="1" fill="#a01818"/><rect x="112" y="437" width="1" height="1" fill="#a01818"/><rect x="113" y="435" width="1" height="2" fill="#a01818"/><rect x="114" y="434" width="1" height="1" fill="#a01818"/><rect x="115" y="433" width="1" height="1" fill="#a01818"/><rect x="116" y="431" width="1" height="2" fill="#a01818"/><rect x="117" y="430" width="1" height="1" fill="#a01818"/><rect x="118" y="429" width="1" height="1" fill="#a01818"/><rect x="119" y="427" width="1" height="2" fill="#a01818"/><rect x="120" y="426" width="1" height="1" fill="#a01818"/><rect x="121" y="424" width="1" height="2" fill="#a01818"/><rect x="122" y="423" width="1" height="1" fill="#a01818"/><rect x="123" y="422" width="1" height="1" fill="#a01818"/><rect x="124" y="420" width="1" height="2" fill="#a01818"/><rect x="125" y="419" width="1" height="1" fill="#a01818"/><rect x="126" y="418" width="1" height="1" fill="#a01818"/><rect x="127" y="417" width="1" height="1" fill="#a01818"/><rect x="128" y="415" width="1" height="2" fill="#a01818"/><rect x="129" y="413" width="1" height="2" fill="#a01818"/><rect x="130" y="412" width="1" height="1" fill="#a01818"/><rect x="131" y="411" width="1" height="1" fill="#a01818"/><rect x="132" y="410" width="1" height="1" fill="#a01818"/><rect x="133" y="408" width="1" height="2" fill="#a01818"/><rect x="134" y="407" width="1" height="1" fill="#a01818"/><rect x="135" y="406" width="1" height="1" fill="#a01818"/><rect x="136" y="404" width="1" height="2" fill="#a01818"/><rect x="137" y="402" width="1" height="2" fill="#a01818"/><rect x="138" y="400" width="1" height="2" fill="#a01818"/><rect x="139" y="398" width="1" height="2" fill="#a01818"/><rect x="140" y="396" width="1" height="2" fill="#a01818"/><rect x="141" y="393" width="1" height="3" fill="#a01818"/><rect x="142" y="391" width="1" height="2" fill="#a01818"/><rect x="143" y="390" width="1" height="1" fill="#a01818"/><rect x="144" y="389" width="1" height="1" fill="#a01818"/><rect x="145" y="388" width="1" height="1" fill="#a01818"/><rect x="146" y="388" width="1" height="1" fill="#a01818"/><rect x="147" y="387" width="1" height="1" fill="#a01818"/><rect x="148" y="385" width="1" height="2" fill="#a01818"/><rect x="149" y="384" width="1" height="1" fill="#a01818"/><rect x="150" y="382" width="1" height="2" fill="#a01818"/><rect x="151" y="381" width="1" height="1" fill="#a01818"/><rect x="152" y="379" width="1" height="2" fill="#a01818"/><rect x="153" y="377" width="1" height="2" fill="#a01818"/><rect x="154" y="375" width="1" height="2" fill="#a01818"/><rect x="155" y="374" width="1" height="1" fill="#a01818"/><rect x="156" y="372" width="1" height="2" fill="#a01818"/><rect x="157" y="369" width="1" height="3" fill="#a01818"/><rect x="158" y="367" width="1" height="2" fill="#a01818"/><rect x="159" y="365" width="1" height="2" fill="#a01818"/><rect x="160" y="361" width="1" height="4" fill="#a01818"/><rect x="161" y="359" width="1" height="2" fill="#a01818"/><rect x="162" y="356" width="1" height="3" fill="#a01818"/><rect x="163" y="354" width="1" height="2" fill="#a01818"/><rect x="164" y="352" width="1" height="2" fill="#a01818"/><rect x="165" y="351" width="1" height="1" fill="#a01818"/><rect x="166" y="349" width="1" height="2" fill="#a01818"/><rect x="167" y="348" width="1" height="1" fill="#a01818"/><rect x="168" y="346" width="1" height="2" fill="#a01818"/><rect x="169" y="345" width="1" height="1" fill="#a01818"/><rect x="170" y="343" width="1" height="2" fill="#a01818"/><rect x="171" y="341" width="1" height="2" fill="#a01818"/><rect x="172" y="338" width="1" height="3" fill="#a01818"/><rect x="173" y="335" width="1" height="3" fill="#a01818"/><rect x="174" y="333" width="1" height="2" fill="#a01818"/><rect x="175" y="331" width="1" height="2" fill="#a01818"/><rect x="176" y="329" width="1" height="2" fill="#a01818"/><rect x="177" y="327" width="1" height="2" fill="#a01818"/><rect x="178" y="325" width="1" height="2" fill="#a01818"/><rect x="179" y="323" width="1" height="2" fill="#a01818"/><rect x="180" y="321" width="1" height="2" fill="#a01818"/><rect x="181" y="319" width="1" height="2" fill="#a01818"/><rect x="182" y="316" width="1" height="3" fill="#a01818"/><rect x="183" y="314" width="1" height="2" fill="#a01818"/><rect x="184" y="312" width="1" height="2" fill="#a01818"/><rect x="185" y="309" width="1" height="3" fill="#a01818"/><rect x="186" y="306" width="1" height="3" fill="#a01818"/><rect x="187" y="302" width="1" height="4" fill="#a01818"/><rect x="188" y="298" width="1" height="4" fill="#a01818"/><rect x="189" y="296" width="1" height="2" fill="#a01818"/><rect x="190" y="293" width="1" height="3" fill="#a01818"/><rect x="191" y="291" width="1" height="2" fill="#a01818"/><rect x="192" y="288" width="1" height="3" fill="#a01818"/><rect x="193" y="285" width="1" height="3" fill="#a01818"/><rect x="194" y="283" width="1" height="2" fill="#a01818"/><rect x="195" y="280" width="1" height="3" fill="#a01818"/><rect x="196" y="278" width="1" height="2" fill="#a01818"/><rect x="197" y="276" width="1" height="2" fill="#a01818"/><rect x="198" y="274" width="1" height="2" fill="#a01818"/><rect x="199" y="272" width="1" height="2" fill="#a01818"/><rect x="200" y="270" width="1" height="2" fill="#a01818"/><rect x="201" y="268" width="1" height="2" fill="#a01818"/><rect x="202" y="266" width="1" height="2" fill="#a01818"/><rect x="203" y="263" width="1" height="3" fill="#a01818"/><rect x="204" y="261" width="1" height="2" fill="#a01818"/><rect x="205" y="259" width="1" height="2" fill="#a01818"/><rect x="206" y="257" width="1" height="2" fill="#a01818"/><rect x="207" y="256" width="1" height="1" fill="#a01818"/><rect x="208" y="254" width="1" height="2" fill="#a01818"/><rect x="209" y="253" width="1" height="1" fill="#a01818"/><rect x="210" y="252" width="1" height="1" fill="#a01818"/><rect x="211" y="251" width="1" height="1" fill="#a01818"/><rect x="212" y="250" width="1" height="1" fill="#a01818"/><rect x="213" y="250" width="1" height="1" fill="#a01818"/><rect x="214" y="250" width="1" height="1" fill="#a01818"/><rect x="215" y="249" width="1" height="1" fill="#a01818"/><rect x="216" y="249" width="1" height="1" fill="#a01818"/><rect x="217" y="249" width="1" height="1" fill="#a01818"/><rect x="218" y="248" width="1" height="1" fill="#a01818"/><rect x="219" y="247" width="1" height="1" fill="#a01818"/><rect x="220" y="246" width="1" height="1" fill="#a01818"/><rect x="221" y="244" width="1" height="2" fill="#a01818"/><rect x="222" y="243" width="1" height="1" fill="#a01818"/><rect x="223" y="242" width="1" height="1" fill="#a01818"/><rect x="224" y="241" width="1" height="1" fill="#a01818"/><rect x="225" y="240" width="1" height="1" fill="#a01818"/><rect x="226" y="240" width="1" height="1" fill="#a01818"/><rect x="227" y="240" width="1" height="1" fill="#a01818"/><rect x="228" y="240" width="1" height="1" fill="#a01818"/><rect x="229" y="240" width="1" height="1" fill="#a01818"/><rect x="230" y="240" width="1" height="1" fill="#a01818"/><rect x="231" y="241" width="1" height="1" fill="#a01818"/><rect x="232" y="241" width="1" height="1" fill="#a01818"/><rect x="233" y="241" width="1" height="1" fill="#a01818"/><rect x="234" y="242" width="1" height="1" fill="#a01818"/><rect x="235" y="242" width="1" height="1" fill="#a01818"/><rect x="236" y="242" width="1" height="1" fill="#a01818"/><rect x="237" y="242" width="1" height="1" fill="#a01818"/><rect x="238" y="243" width="1" height="1" fill="#a01818"/><rect x="239" y="244" width="1" height="1" fill="#a01818"/><rect x="240" y="245" width="1" height="1" fill="#a01818"/><rect x="241" y="246" width="1" height="1" fill="#a01818"/><rect x="242" y="247" width="1" height="2" fill="#a01818"/><rect x="243" y="249" width="1" height="2" fill="#a01818"/><rect x="244" y="251" width="1" height="3" fill="#a01818"/><rect x="245" y="254" width="1" height="2" fill="#a01818"/><rect x="246" y="256" width="1" height="2" fill="#a01818"/><rect x="247" y="258" width="1" height="2" fill="#a01818"/><rect x="248" y="260" width="1" height="3" fill="#a01818"/><rect x="249" y="263" width="1" height="1" fill="#a01818"/><rect x="250" y="264" width="1" height="2" fill="#a01818"/><rect x="251" y="266" width="1" height="2" fill="#a01818"/><rect x="252" y="268" width="1" height="2" fill="#a01818"/><rect x="253" y="270" width="1" height="2" fill="#a01818"/><rect x="254" y="272" width="1" height="2" fill="#a01818"/><rect x="255" y="274" width="1" height="2" fill="#a01818"/><rect x="256" y="276" width="1" height="2" fill="#a01818"/><rect x="257" y="278" width="1" height="2" fill="#a01818"/><rect x="258" y="280" width="1" height="2" fill="#a01818"/><rect x="259" y="282" width="1" height="2" fill="#a01818"/><rect x="260" y="284" width="1" height="2" fill="#a01818"/><rect x="261" y="286" width="1" height="2" fill="#a01818"/><rect x="262" y="288" width="1" height="2" fill="#a01818"/><rect x="263" y="290" width="1" height="3" fill="#a01818"/><rect x="264" y="293" width="1" height="2" fill="#a01818"/><rect x="265" y="295" width="1" height="2" fill="#a01818"/><rect x="266" y="297" width="1" height="3" fill="#a01818"/><rect x="267" y="300" width="1" height="2" fill="#a01818"/><rect x="268" y="302" width="1" height="2" fill="#a01818"/><rect x="269" y="304" width="1" height="2" fill="#a01818"/><rect x="270" y="306" width="1" height="2" fill="#a01818"/><rect x="271" y="308" width="1" height="1" fill="#a01818"/><rect x="272" y="309" width="1" height="2" fill="#a01818"/><rect x="273" y="311" width="1" height="3" fill="#a01818"/><rect x="274" y="314" width="1" height="2" fill="#a01818"/><rect x="275" y="316" width="1" height="2" fill="#a01818"/><rect x="276" y="318" width="1" height="2" fill="#a01818"/><rect x="277" y="320" width="1" height="2" fill="#a01818"/><rect x="278" y="322" width="1" height="1" fill="#a01818"/><rect x="279" y="323" width="1" height="1" fill="#a01818"/><rect x="280" y="324" width="1" height="1" fill="#a01818"/><rect x="281" y="325" width="1" height="1" fill="#a01818"/><rect x="282" y="326" width="1" height="1" fill="#a01818"/><rect x="283" y="327" width="1" height="2" fill="#a01818"/><rect x="284" y="329" width="1" height="1" fill="#a01818"/><rect x="285" y="330" width="1" height="2" fill="#a01818"/><rect x="286" y="332" width="1" height="1" fill="#a01818"/><rect x="287" y="333" width="1" height="2" fill="#a01818"/><rect x="288" y="335" width="1" height="1" fill="#a01818"/><rect x="289" y="336" width="1" height="2" fill="#a01818"/><rect x="290" y="338" width="1" height="1" fill="#a01818"/><rect x="291" y="339" width="1" height="1" fill="#a01818"/><rect x="292" y="340" width="1" height="2" fill="#a01818"/><rect x="293" y="342" width="1" height="1" fill="#a01818"/><rect x="294" y="343" width="1" height="2" fill="#a01818"/><rect x="295" y="345" width="1" height="1" fill="#a01818"/><rect x="296" y="346" width="1" height="2" fill="#a01818"/><rect x="297" y="348" width="1" height="1" fill="#a01818"/><rect x="298" y="349" width="1" height="1" fill="#a01818"/><rect x="299" y="350" width="1" height="1" fill="#a01818"/><rect x="300" y="351" width="1" height="2" fill="#a01818"/><rect x="301" y="353" width="1" height="1" fill="#a01818"/><rect x="302" y="354" width="1" height="1" fill="#a01818"/><rect x="303" y="355" width="1" height="2" fill="#a01818"/><rect x="304" y="357" width="1" height="2" fill="#a01818"/><rect x="305" y="359" width="1" height="2" fill="#a01818"/><rect x="306" y="361" width="1" height="2" fill="#a01818"/><rect x="307" y="363" width="1" height="1" fill="#a01818"/><rect x="308" y="364" width="1" height="1" fill="#a01818"/><rect x="309" y="365" width="1" height="1" fill="#a01818"/><rect x="310" y="366" width="1" height="1" fill="#a01818"/><rect x="311" y="367" width="1" height="1" fill="#a01818"/><rect x="312" y="368" width="1" height="2" fill="#a01818"/><rect x="313" y="370" width="1" height="1" fill="#a01818"/><rect x="314" y="371" width="1" height="1" fill="#a01818"/><rect x="315" y="372" width="1" height="1" fill="#a01818"/><rect x="316" y="373" width="1" height="1" fill="#a01818"/><rect x="317" y="374" width="1" height="1" fill="#a01818"/><rect x="318" y="375" width="1" height="1" fill="#a01818"/><rect x="319" y="376" width="1" height="1" fill="#a01818"/><rect x="320" y="377" width="1" height="1" fill="#a01818"/><rect x="321" y="377" width="1" height="1" fill="#a01818"/><rect x="322" y="378" width="1" height="1" fill="#a01818"/><rect x="323" y="378" width="1" height="1" fill="#a01818"/><rect x="324" y="378" width="1" height="1" fill="#a01818"/><rect x="325" y="378" width="1" height="1" fill="#a01818"/><rect x="326" y="378" width="1" height="1" fill="#a01818"/><rect x="327" y="378" width="1" height="1" fill="#a01818"/><rect x="328" y="378" width="1" height="1" fill="#a01818"/><rect x="329" y="378" width="1" height="1" fill="#a01818"/><rect x="330" y="378" width="1" height="1" fill="#a01818"/><rect x="331" y="378" width="1" height="1" fill="#a01818"/><rect x="332" y="378" width="1" height="1" fill="#a01818"/><rect x="333" y="378" width="1" height="1" fill="#a01818"/><rect x="334" y="379" width="1" height="1" fill="#a01818"/><rect x="335" y="379" width="1" height="1" fill="#a01818"/><rect x="336" y="379" width="1" height="1" fill="#a01818"/><rect x="337" y="379" width="1" height="1" fill="#a01818"/><rect x="338" y="379" width="1" height="1" fill="#a01818"/><rect x="339" y="380" width="1" height="1" fill="#a01818"/><rect x="340" y="381" width="1" height="1" fill="#a01818"/><rect x="341" y="381" width="1" height="1" fill="#a01818"/><rect x="342" y="381" width="1" height="1" fill="#a01818"/><rect x="343" y="381" width="1" height="1" fill="#a01818"/><rect x="344" y="381" width="1" height="1" fill="#a01818"/><rect x="345" y="381" width="1" height="1" fill="#a01818"/><rect x="346" y="381" width="1" height="1" fill="#a01818"/><rect x="347" y="382" width="1" height="1" fill="#a01818"/><rect x="348" y="382" width="1" height="1" fill="#a01818"/><rect x="349" y="382" width="1" height="1" fill="#a01818"/><rect x="350" y="382" width="1" height="1" fill="#a01818"/><rect x="351" y="382" width="1" height="1" fill="#a01818"/><rect x="352" y="382" width="1" height="1" fill="#a01818"/><rect x="353" y="382" width="1" height="1" fill="#a01818"/><rect x="354" y="383" width="1" height="1" fill="#a01818"/><rect x="355" y="383" width="1" height="1" fill="#a01818"/><rect x="356" y="383" width="1" height="1" fill="#a01818"/><rect x="357" y="383" width="1" height="1" fill="#a01818"/><rect x="358" y="383" width="1" height="1" fill="#a01818"/><rect x="359" y="383" width="1" height="1" fill="#a01818"/><rect x="360" y="383" width="1" height="1" fill="#a01818"/><rect x="361" y="383" width="1" height="1" fill="#a01818"/><rect x="362" y="383" width="1" height="1" fill="#a01818"/><rect x="363" y="383" width="1" height="1" fill="#a01818"/><rect x="364" y="384" width="1" height="1" fill="#a01818"/><rect x="365" y="385" width="1" height="1" fill="#a01818"/><rect x="366" y="385" width="1" height="1" fill="#a01818"/><rect x="367" y="386" width="1" height="1" fill="#a01818"/><rect x="368" y="386" width="1" height="1" fill="#a01818"/><rect x="369" y="386" width="1" height="1" fill="#a01818"/><rect x="370" y="387" width="1" height="1" fill="#a01818"/><rect x="371" y="387" width="1" height="1" fill="#a01818"/><rect x="372" y="387" width="1" height="1" fill="#a01818"/><rect x="373" y="387" width="1" height="1" fill="#a01818"/><rect x="374" y="388" width="1" height="1" fill="#a01818"/><rect x="375" y="388" width="1" height="1" fill="#a01818"/><rect x="376" y="388" width="1" height="1" fill="#a01818"/><rect x="377" y="389" width="1" height="1" fill="#a01818"/><rect x="378" y="389" width="1" height="1" fill="#a01818"/><rect x="379" y="389" width="1" height="1" fill="#a01818"/><rect x="380" y="390" width="1" height="1" fill="#a01818"/><rect x="381" y="390" width="1" height="1" fill="#a01818"/><rect x="382" y="390" width="1" height="1" fill="#a01818"/><rect x="383" y="390" width="1" height="1" fill="#a01818"/><rect x="384" y="390" width="1" height="1" fill="#a01818"/><rect x="385" y="390" width="1" height="1" fill="#a01818"/><rect x="386" y="390" width="1" height="1" fill="#a01818"/><rect x="387" y="390" width="1" height="1" fill="#a01818"/><rect x="388" y="390" width="1" height="1" fill="#a01818"/><rect x="389" y="390" width="1" height="1" fill="#a01818"/><rect x="390" y="390" width="1" height="1" fill="#a01818"/><rect x="391" y="390" width="1" height="1" fill="#a01818"/><rect x="392" y="390" width="1" height="1" fill="#a01818"/><rect x="393" y="390" width="1" height="1" fill="#a01818"/><rect x="394" y="390" width="1" height="1" fill="#a01818"/><rect x="395" y="390" width="1" height="1" fill="#a01818"/><rect x="396" y="390" width="1" height="1" fill="#a01818"/><rect x="397" y="390" width="1" height="1" fill="#a01818"/><rect x="398" y="390" width="1" height="1" fill="#a01818"/><rect x="399" y="390" width="1" height="1" fill="#a01818"/><rect x="400" y="390" width="1" height="1" fill="#a01818"/><rect x="401" y="389" width="1" height="1" fill="#a01818"/><rect x="402" y="389" width="1" height="1" fill="#a01818"/><rect x="403" y="388" width="1" height="1" fill="#a01818"/><rect x="404" y="388" width="1" height="1" fill="#a01818"/><rect x="405" y="388" width="1" height="1" fill="#a01818"/><rect x="406" y="387" width="1" height="1" fill="#a01818"/><rect x="407" y="387" width="1" height="1" fill="#a01818"/><rect x="408" y="386" width="1" height="1" fill="#a01818"/><rect x="409" y="385" width="1" height="1" fill="#a01818"/><rect x="410" y="384" width="1" height="1" fill="#a01818"/><rect x="411" y="383" width="1" height="1" fill="#a01818"/><rect x="412" y="383" width="1" height="1" fill="#a01818"/><rect x="413" y="382" width="1" height="1" fill="#a01818"/><rect x="414" y="382" width="1" height="1" fill="#a01818"/><rect x="415" y="381" width="1" height="1" fill="#a01818"/><rect x="416" y="380" width="1" height="1" fill="#a01818"/><rect x="417" y="379" width="1" height="1" fill="#a01818"/><rect x="418" y="378" width="1" height="1" fill="#a01818"/><rect x="419" y="377" width="1" height="1" fill="#a01818"/><rect x="420" y="376" width="1" height="1" fill="#a01818"/><rect x="421" y="375" width="1" height="1" fill="#a01818"/><rect x="422" y="374" width="1" height="1" fill="#a01818"/><rect x="423" y="374" width="1" height="1" fill="#a01818"/><rect x="424" y="374" width="1" height="1" fill="#a01818"/><rect x="425" y="373" width="1" height="1" fill="#a01818"/><rect x="426" y="373" width="1" height="1" fill="#a01818"/><rect x="427" y="372" width="1" height="1" fill="#a01818"/><rect x="428" y="372" width="1" height="1" fill="#a01818"/><rect x="429" y="372" width="1" height="1" fill="#a01818"/><rect x="430" y="371" width="1" height="1" fill="#a01818"/><rect x="431" y="371" width="1" height="1" fill="#a01818"/><rect x="432" y="371" width="1" height="1" fill="#a01818"/><rect x="433" y="371" width="1" height="1" fill="#a01818"/><rect x="434" y="370" width="1" height="1" fill="#a01818"/><rect x="435" y="370" width="1" height="1" fill="#a01818"/><rect x="436" y="369" width="1" height="1" fill="#a01818"/><rect x="437" y="369" width="1" height="1" fill="#a01818"/><rect x="438" y="368" width="1" height="1" fill="#a01818"/><rect x="439" y="368" width="1" height="1" fill="#a01818"/><rect x="440" y="367" width="1" height="1" fill="#a01818"/><rect x="441" y="367" width="1" height="1" fill="#a01818"/><rect x="442" y="367" width="1" height="1" fill="#a01818"/><rect x="443" y="367" width="1" height="1" fill="#a01818"/><rect x="444" y="367" width="1" height="1" fill="#a01818"/><rect x="445" y="367" width="1" height="1" fill="#a01818"/><rect x="446" y="367" width="1" height="1" fill="#a01818"/><rect x="447" y="366" width="1" height="1" fill="#a01818"/><rect x="448" y="366" width="1" height="1" fill="#a01818"/><rect x="449" y="365" width="1" height="1" fill="#a01818"/><rect x="450" y="365" width="1" height="1" fill="#a01818"/><rect x="451" y="364" width="1" height="1" fill="#a01818"/><rect x="452" y="364" width="1" height="1" fill="#a01818"/><rect x="453" y="363" width="1" height="1" fill="#a01818"/><rect x="454" y="363" width="1" height="1" fill="#a01818"/><rect x="455" y="362" width="1" height="1" fill="#a01818"/><rect x="456" y="362" width="1" height="1" fill="#a01818"/><rect x="457" y="361" width="1" height="1" fill="#a01818"/><rect x="458" y="360" width="1" height="1" fill="#a01818"/><rect x="459" y="359" width="1" height="1" fill="#a01818"/><rect x="460" y="358" width="1" height="1" fill="#a01818"/><rect x="461" y="357" width="1" height="1" fill="#a01818"/><rect x="462" y="356" width="1" height="1" fill="#a01818"/><rect x="463" y="354" width="1" height="2" fill="#a01818"/><rect x="464" y="353" width="1" height="1" fill="#a01818"/><rect x="465" y="352" width="1" height="1" fill="#a01818"/><rect x="466" y="351" width="1" height="1" fill="#a01818"/><rect x="467" y="350" width="1" height="1" fill="#a01818"/><rect x="468" y="349" width="1" height="1" fill="#a01818"/><rect x="469" y="348" width="1" height="1" fill="#a01818"/><rect x="470" y="347" width="1" height="1" fill="#a01818"/><rect x="471" y="346" width="1" height="1" fill="#a01818"/><rect x="472" y="345" width="1" height="1" fill="#a01818"/><rect x="473" y="344" width="1" height="1" fill="#a01818"/><rect x="474" y="343" width="1" height="1" fill="#a01818"/><rect x="475" y="342" width="1" height="1" fill="#a01818"/><rect x="476" y="341" width="1" height="1" fill="#a01818"/><rect x="477" y="340" width="1" height="1" fill="#a01818"/><rect x="478" y="339" width="1" height="1" fill="#a01818"/><rect x="479" y="338" width="1" height="1" fill="#a01818"/><rect x="480" y="337" width="1" height="1" fill="#a01818"/><rect x="481" y="336" width="1" height="1" fill="#a01818"/><rect x="482" y="335" width="1" height="1" fill="#a01818"/><rect x="483" y="334" width="1" height="1" fill="#a01818"/><rect x="484" y="333" width="1" height="1" fill="#a01818"/><rect x="485" y="333" width="1" height="1" fill="#a01818"/><rect x="486" y="332" width="1" height="1" fill="#a01818"/><rect x="487" y="331" width="1" height="1" fill="#a01818"/><rect x="488" y="331" width="1" height="1" fill="#a01818"/><rect x="489" y="330" width="1" height="1" fill="#a01818"/><rect x="490" y="329" width="1" height="1" fill="#a01818"/><rect x="491" y="328" width="1" height="1" fill="#a01818"/><rect x="492" y="327" width="1" height="1" fill="#a01818"/><rect x="493" y="326" width="1" height="1" fill="#a01818"/><rect x="494" y="326" width="1" height="1" fill="#a01818"/><rect x="495" y="326" width="1" height="1" fill="#a01818"/><rect x="496" y="325" width="1" height="1" fill="#a01818"/><rect x="497" y="325" width="1" height="1" fill="#a01818"/><rect x="498" y="325" width="1" height="1" fill="#a01818"/><rect x="499" y="325" width="1" height="1" fill="#a01818"/><rect x="500" y="324" width="1" height="1" fill="#a01818"/><rect x="501" y="324" width="1" height="1" fill="#a01818"/><rect x="502" y="324" width="1" height="1" fill="#a01818"/><rect x="503" y="323" width="1" height="1" fill="#a01818"/><rect x="504" y="323" width="1" height="1" fill="#a01818"/><rect x="505" y="322" width="1" height="1" fill="#a01818"/><rect x="506" y="322" width="1" height="1" fill="#a01818"/><rect x="507" y="321" width="1" height="1" fill="#a01818"/><rect x="508" y="321" width="1" height="1" fill="#a01818"/><rect x="509" y="321" width="1" height="1" fill="#a01818"/><rect x="510" y="320" width="1" height="1" fill="#a01818"/><rect x="511" y="320" width="1" height="1" fill="#a01818"/><rect x="512" y="320" width="1" height="1" fill="#a01818"/><rect x="513" y="319" width="1" height="1" fill="#a01818"/><rect x="514" y="319" width="1" height="1" fill="#a01818"/><rect x="515" y="319" width="1" height="1" fill="#a01818"/><rect x="516" y="319" width="1" height="1" fill="#a01818"/><rect x="517" y="318" width="1" height="1" fill="#a01818"/><rect x="518" y="318" width="1" height="1" fill="#a01818"/><rect x="519" y="317" width="1" height="1" fill="#a01818"/><rect x="520" y="317" width="1" height="1" fill="#a01818"/><rect x="521" y="316" width="1" height="1" fill="#a01818"/><rect x="522" y="316" width="1" height="1" fill="#a01818"/><rect x="523" y="315" width="1" height="1" fill="#a01818"/><rect x="524" y="315" width="1" height="1" fill="#a01818"/><rect x="525" y="315" width="1" height="1" fill="#a01818"/><rect x="526" y="315" width="1" height="1" fill="#a01818"/><rect x="527" y="314" width="1" height="1" fill="#a01818"/><rect x="528" y="314" width="1" height="1" fill="#a01818"/><rect x="529" y="314" width="1" height="1" fill="#a01818"/><rect x="530" y="313" width="1" height="1" fill="#a01818"/><rect x="531" y="313" width="1" height="1" fill="#a01818"/><rect x="532" y="313" width="1" height="1" fill="#a01818"/><rect x="533" y="313" width="1" height="1" fill="#a01818"/><rect x="534" y="312" width="1" height="1" fill="#a01818"/><rect x="535" y="311" width="1" height="1" fill="#a01818"/><rect x="536" y="309" width="1" height="2" fill="#a01818"/><rect x="537" y="308" width="1" height="1" fill="#a01818"/><rect x="538" y="307" width="1" height="1" fill="#a01818"/><rect x="539" y="306" width="1" height="1" fill="#a01818"/><rect x="540" y="305" width="1" height="1" fill="#a01818"/><rect x="541" y="305" width="1" height="1" fill="#a01818"/><rect x="542" y="304" width="1" height="1" fill="#a01818"/><rect x="543" y="304" width="1" height="1" fill="#a01818"/><rect x="544" y="303" width="1" height="1" fill="#a01818"/><rect x="545" y="303" width="1" height="1" fill="#a01818"/><rect x="546" y="302" width="1" height="1" fill="#a01818"/><rect x="547" y="301" width="1" height="1" fill="#a01818"/><rect x="548" y="300" width="1" height="1" fill="#a01818"/><rect x="549" y="300" width="1" height="1" fill="#a01818"/><rect x="550" y="299" width="1" height="1" fill="#a01818"/><rect x="551" y="299" width="1" height="1" fill="#a01818"/><rect x="552" y="298" width="1" height="1" fill="#a01818"/><rect x="553" y="297" width="1" height="1" fill="#a01818"/><rect x="554" y="297" width="1" height="1" fill="#a01818"/><rect x="555" y="296" width="1" height="1" fill="#a01818"/><rect x="556" y="296" width="1" height="1" fill="#a01818"/><rect x="557" y="295" width="1" height="1" fill="#a01818"/><rect x="558" y="295" width="1" height="1" fill="#a01818"/><rect x="559" y="295" width="1" height="1" fill="#a01818"/><rect x="560" y="294" width="1" height="1" fill="#a01818"/><rect x="561" y="294" width="1" height="1" fill="#a01818"/><rect x="562" y="293" width="1" height="1" fill="#a01818"/><rect x="563" y="293" width="1" height="1" fill="#a01818"/><rect x="564" y="292" width="1" height="1" fill="#a01818"/><rect x="565" y="292" width="1" height="1" fill="#a01818"/><rect x="566" y="292" width="1" height="1" fill="#a01818"/><rect x="567" y="292" width="1" height="1" fill="#a01818"/><rect x="568" y="292" width="1" height="1" fill="#a01818"/><rect x="569" y="292" width="1" height="1" fill="#a01818"/><rect x="570" y="292" width="1" height="1" fill="#a01818"/><rect x="571" y="292" width="1" height="1" fill="#a01818"/><rect x="572" y="292" width="1" height="1" fill="#a01818"/><rect x="573" y="292" width="1" height="1" fill="#a01818"/><rect x="574" y="292" width="1" height="1" fill="#a01818"/><rect x="575" y="292" width="1" height="1" fill="#a01818"/><rect x="576" y="292" width="1" height="1" fill="#a01818"/><rect x="577" y="292" width="1" height="1" fill="#a01818"/><rect x="578" y="292" width="1" height="1" fill="#a01818"/><rect x="579" y="292" width="1" height="1" fill="#a01818"/><rect x="580" y="292" width="1" height="1" fill="#a01818"/><rect x="581" y="292" width="1" height="1" fill="#a01818"/><rect x="582" y="292" width="1" height="1" fill="#a01818"/><rect x="583" y="292" width="1" height="1" fill="#a01818"/><rect x="584" y="292" width="1" height="1" fill="#a01818"/><rect x="585" y="293" width="1" height="1" fill="#a01818"/><rect x="586" y="293" width="1" height="1" fill="#a01818"/><rect x="587" y="293" width="1" height="1" fill="#a01818"/><rect x="588" y="293" width="1" height="1" fill="#a01818"/><rect x="589" y="293" width="1" height="1" fill="#a01818"/><rect x="590" y="293" width="1" height="1" fill="#a01818"/><rect x="591" y="293" width="1" height="1" fill="#a01818"/><rect x="592" y="294" width="1" height="1" fill="#a01818"/><rect x="593" y="294" width="1" height="1" fill="#a01818"/><rect x="594" y="294" width="1" height="1" fill="#a01818"/><rect x="595" y="294" width="1" height="1" fill="#a01818"/><rect x="596" y="294" width="1" height="1" fill="#a01818"/><rect x="597" y="294" width="1" height="1" fill="#a01818"/><rect x="598" y="295" width="1" height="1" fill="#a01818"/><rect x="599" y="296" width="1" height="1" fill="#a01818"/><rect x="600" y="296" width="1" height="1" fill="#a01818"/><rect x="601" y="296" width="1" height="1" fill="#a01818"/><rect x="602" y="296" width="1" height="1" fill="#a01818"/><rect x="603" y="296" width="1" height="1" fill="#a01818"/><rect x="604" y="296" width="1" height="1" fill="#a01818"/><rect x="605" y="296" width="1" height="1" fill="#a01818"/><rect x="606" y="296" width="1" height="1" fill="#a01818"/><rect x="607" y="296" width="1" height="1" fill="#a01818"/><rect x="608" y="296" width="1" height="1" fill="#a01818"/><rect x="609" y="296" width="1" height="1" fill="#a01818"/><rect x="610" y="296" width="1" height="1" fill="#a01818"/><rect x="611" y="295" width="1" height="1" fill="#a01818"/><rect x="612" y="295" width="1" height="1" fill="#a01818"/><rect x="613" y="294" width="1" height="1" fill="#a01818"/><rect x="614" y="294" width="1" height="1" fill="#a01818"/><rect x="615" y="294" width="1" height="1" fill="#a01818"/><rect x="616" y="293" width="1" height="1" fill="#a01818"/><rect x="617" y="293" width="1" height="1" fill="#a01818"/><rect x="618" y="292" width="1" height="1" fill="#a01818"/><rect x="619" y="292" width="1" height="1" fill="#a01818"/><rect x="620" y="292" width="1" height="1" fill="#a01818"/><rect x="621" y="291" width="1" height="1" fill="#a01818"/><rect x="622" y="291" width="1" height="1" fill="#a01818"/><rect x="623" y="291" width="1" height="1" fill="#a01818"/><rect x="624" y="291" width="1" height="1" fill="#a01818"/><rect x="625" y="290" width="1" height="1" fill="#a01818"/><rect x="626" y="290" width="1" height="1" fill="#a01818"/><rect x="627" y="290" width="1" height="1" fill="#a01818"/><rect x="628" y="290" width="1" height="1" fill="#a01818"/><rect x="629" y="290" width="1" height="1" fill="#a01818"/><rect x="630" y="290" width="1" height="1" fill="#a01818"/><rect x="631" y="290" width="1" height="1" fill="#a01818"/><rect x="632" y="290" width="1" height="1" fill="#a01818"/><rect x="633" y="289" width="1" height="1" fill="#a01818"/><rect x="634" y="289" width="1" height="1" fill="#a01818"/><rect x="635" y="289" width="1" height="1" fill="#a01818"/><rect x="636" y="289" width="1" height="1" fill="#a01818"/><rect x="637" y="289" width="1" height="1" fill="#a01818"/><rect x="638" y="289" width="1" height="1" fill="#a01818"/><rect x="639" y="288" width="1" height="1" fill="#a01818"/><rect x="640" y="288" width="1" height="1" fill="#a01818"/><rect x="641" y="287" width="1" height="1" fill="#a01818"/><rect x="642" y="285" width="1" height="2" fill="#a01818"/><rect x="643" y="284" width="1" height="1" fill="#a01818"/><rect x="644" y="283" width="1" height="1" fill="#a01818"/><rect x="645" y="282" width="1" height="1" fill="#a01818"/><rect x="646" y="281" width="1" height="1" fill="#a01818"/><rect x="647" y="280" width="1" height="1" fill="#a01818"/><rect x="648" y="279" width="1" height="1" fill="#a01818"/><rect x="649" y="278" width="1" height="1" fill="#a01818"/><rect x="650" y="277" width="1" height="1" fill="#a01818"/><rect x="651" y="276" width="1" height="1" fill="#a01818"/><rect x="652" y="275" width="1" height="1" fill="#a01818"/><rect x="653" y="274" width="1" height="1" fill="#a01818"/><rect x="654" y="273" width="1" height="1" fill="#a01818"/><rect x="655" y="272" width="1" height="1" fill="#a01818"/><rect x="656" y="271" width="1" height="1" fill="#a01818"/><rect x="657" y="270" width="1" height="1" fill="#a01818"/><rect x="658" y="269" width="1" height="1" fill="#a01818"/><rect x="659" y="268" width="1" height="1" fill="#a01818"/><rect x="660" y="268" width="1" height="1" fill="#a01818"/><rect x="661" y="267" width="1" height="1" fill="#a01818"/><rect x="662" y="267" width="1" height="1" fill="#a01818"/><rect x="663" y="266" width="1" height="1" fill="#a01818"/><rect x="664" y="265" width="1" height="1" fill="#a01818"/><rect x="665" y="265" width="1" height="1" fill="#a01818"/><rect x="666" y="264" width="1" height="1" fill="#a01818"/><rect x="667" y="263" width="1" height="1" fill="#a01818"/><rect x="668" y="263" width="1" height="1" fill="#a01818"/><rect x="669" y="262" width="1" height="1" fill="#a01818"/><rect x="670" y="261" width="1" height="1" fill="#a01818"/><rect x="671" y="260" width="1" height="1" fill="#a01818"/><rect x="672" y="258" width="1" height="2" fill="#a01818"/><rect x="673" y="257" width="1" height="1" fill="#a01818"/><rect x="674" y="256" width="1" height="1" fill="#a01818"/><rect x="675" y="255" width="1" height="1" fill="#a01818"/><rect x="676" y="253" width="1" height="2" fill="#a01818"/><rect x="677" y="252" width="1" height="1" fill="#a01818"/><rect x="678" y="251" width="1" height="1" fill="#a01818"/><rect x="679" y="250" width="1" height="1" fill="#a01818"/><rect x="680" y="249" width="1" height="1" fill="#a01818"/><rect x="681" y="248" width="1" height="1" fill="#a01818"/><rect x="682" y="247" width="1" height="1" fill="#a01818"/><rect x="683" y="246" width="1" height="1" fill="#a01818"/><rect x="684" y="246" width="1" height="1" fill="#a01818"/><rect x="685" y="245" width="1" height="1" fill="#a01818"/><rect x="686" y="244" width="1" height="1" fill="#a01818"/><rect x="687" y="243" width="1" height="1" fill="#a01818"/><rect x="688" y="242" width="1" height="1" fill="#a01818"/><rect x="689" y="240" width="1" height="2" fill="#a01818"/><rect x="690" y="239" width="1" height="1" fill="#a01818"/><rect x="691" y="238" width="1" height="1" fill="#a01818"/><rect x="692" y="237" width="1" height="1" fill="#a01818"/><rect x="693" y="236" width="1" height="1" fill="#a01818"/><rect x="694" y="235" width="1" height="1" fill="#a01818"/><rect x="695" y="234" width="1" height="1" fill="#a01818"/><rect x="696" y="233" width="1" height="1" fill="#a01818"/><rect x="697" y="232" width="1" height="1" fill="#a01818"/><rect x="698" y="231" width="1" height="1" fill="#a01818"/><rect x="699" y="230" width="1" height="1" fill="#a01818"/><rect x="700" y="229" width="1" height="1" fill="#a01818"/><rect x="701" y="228" width="1" height="1" fill="#a01818"/><rect x="702" y="227" width="1" height="1" fill="#a01818"/><rect x="703" y="226" width="1" height="1" fill="#a01818"/><rect x="704" y="225" width="1" height="1" fill="#a01818"/><rect x="705" y="224" width="1" height="1" fill="#a01818"/><rect x="706" y="223" width="1" height="1" fill="#a01818"/><rect x="707" y="222" width="1" height="1" fill="#a01818"/><rect x="708" y="221" width="1" height="1" fill="#a01818"/><rect x="709" y="219" width="1" height="2" fill="#a01818"/><rect x="710" y="218" width="1" height="1" fill="#a01818"/><rect x="711" y="217" width="1" height="1" fill="#a01818"/><rect x="712" y="216" width="1" height="1" fill="#a01818"/><rect x="713" y="215" width="1" height="1" fill="#a01818"/><rect x="714" y="214" width="1" height="1" fill="#a01818"/><rect x="715" y="214" width="1" height="1" fill="#a01818"/><rect x="716" y="213" width="1" height="1" fill="#a01818"/><rect x="717" y="212" width="1" height="2" fill="#a01818"/><rect x="718" y="211" width="1" height="1" fill="#a01818"/><rect x="719" y="210" width="1" height="1" fill="#a01818"/><rect x="720" y="209" width="1" height="1" fill="#a01818"/><rect x="721" y="208" width="1" height="1" fill="#a01818"/><rect x="722" y="207" width="1" height="1" fill="#a01818"/><rect x="723" y="207" width="1" height="1" fill="#a01818"/><rect x="724" y="206" width="1" height="1" fill="#a01818"/><rect x="725" y="205" width="1" height="1" fill="#a01818"/><rect x="726" y="204" width="1" height="1" fill="#a01818"/><rect x="727" y="203" width="1" height="1" fill="#a01818"/><rect x="728" y="202" width="1" height="1" fill="#a01818"/><rect x="729" y="201" width="1" height="1" fill="#a01818"/><rect x="730" y="200" width="1" height="1" fill="#a01818"/><rect x="731" y="199" width="1" height="1" fill="#a01818"/><rect x="732" y="198" width="1" height="1" fill="#a01818"/><rect x="733" y="197" width="1" height="1" fill="#a01818"/><rect x="734" y="196" width="1" height="1" fill="#a01818"/><rect x="735" y="196" width="1" height="1" fill="#a01818"/><rect x="736" y="195" width="1" height="1" fill="#a01818"/><rect x="737" y="194" width="1" height="1" fill="#a01818"/><rect x="738" y="194" width="1" height="1" fill="#a01818"/><rect x="739" y="194" width="1" height="1" fill="#a01818"/><rect x="740" y="193" width="1" height="1" fill="#a01818"/><rect x="741" y="193" width="1" height="1" fill="#a01818"/><rect x="742" y="193" width="1" height="1" fill="#a01818"/><rect x="743" y="192" width="1" height="1" fill="#a01818"/><rect x="744" y="192" width="1" height="1" fill="#a01818"/><rect x="745" y="192" width="1" height="1" fill="#a01818"/><rect x="746" y="192" width="1" height="1" fill="#a01818"/><rect x="747" y="191" width="1" height="1" fill="#a01818"/><rect x="748" y="191" width="1" height="1" fill="#a01818"/><rect x="749" y="190" width="1" height="1" fill="#a01818"/><rect x="750" y="189" width="1" height="1" fill="#a01818"/><rect x="751" y="189" width="1" height="1" fill="#a01818"/><rect x="752" y="189" width="1" height="1" fill="#a01818"/><rect x="753" y="188" width="1" height="1" fill="#a01818"/><rect x="754" y="188" width="1" height="1" fill="#a01818"/><rect x="755" y="187" width="1" height="1" fill="#a01818"/><rect x="756" y="186" width="1" height="1" fill="#a01818"/><rect x="757" y="185" width="1" height="1" fill="#a01818"/><rect x="758" y="185" width="1" height="1" fill="#a01818"/><rect x="759" y="185" width="1" height="1" fill="#a01818"/><rect x="760" y="185" width="1" height="1" fill="#a01818"/><rect x="761" y="185" width="1" height="1" fill="#a01818"/><rect x="762" y="186" width="1" height="1" fill="#a01818"/><rect x="763" y="187" width="1" height="1" fill="#a01818"/><rect x="764" y="187" width="1" height="1" fill="#a01818"/><rect x="765" y="187" width="1" height="1" fill="#a01818"/><rect x="766" y="188" width="1" height="1" fill="#a01818"/><rect x="767" y="188" width="1" height="1" fill="#a01818"/><rect x="768" y="187" width="1" height="1" fill="#a01818"/><rect x="769" y="187" width="1" height="1" fill="#a01818"/><rect x="770" y="186" width="1" height="1" fill="#a01818"/><rect x="771" y="184" width="1" height="2" fill="#a01818"/><rect x="772" y="183" width="1" height="1" fill="#a01818"/><rect x="773" y="182" width="1" height="1" fill="#a01818"/><rect x="774" y="181" width="1" height="1" fill="#a01818"/><rect x="775" y="180" width="1" height="1" fill="#a01818"/><rect x="776" y="178" width="1" height="2" fill="#a01818"/><rect x="777" y="176" width="1" height="2" fill="#a01818"/><rect x="778" y="175" width="1" height="1" fill="#a01818"/><rect x="779" y="173" width="1" height="2" fill="#a01818"/><rect x="780" y="172" width="1" height="1" fill="#a01818"/><rect x="781" y="171" width="1" height="1" fill="#a01818"/><rect x="782" y="170" width="1" height="1" fill="#a01818"/><rect x="783" y="169" width="1" height="1" fill="#a01818"/><rect x="784" y="168" width="1" height="1" fill="#a01818"/><rect x="785" y="167" width="1" height="1" fill="#a01818"/><rect x="786" y="166" width="1" height="1" fill="#a01818"/><rect x="787" y="166" width="1" height="1" fill="#a01818"/><rect x="788" y="166" width="1" height="1" fill="#a01818"/><rect x="789" y="165" width="1" height="1" fill="#a01818"/><rect x="790" y="165" width="1" height="1" fill="#a01818"/><rect x="791" y="164" width="1" height="1" fill="#a01818"/><rect x="792" y="164" width="1" height="1" fill="#a01818"/><rect x="793" y="163" width="1" height="1" fill="#a01818"/><rect x="794" y="163" width="1" height="1" fill="#a01818"/><rect x="795" y="162" width="1" height="1" fill="#a01818"/><rect x="796" y="162" width="1" height="1" fill="#a01818"/><rect x="797" y="161" width="1" height="1" fill="#a01818"/><rect x="798" y="161" width="1" height="1" fill="#a01818"/><rect x="799" y="160" width="1" height="1" fill="#a01818"/><rect x="800" y="160" width="1" height="1" fill="#a01818"/><rect x="801" y="160" width="1" height="1" fill="#a01818"/><rect x="802" y="159" width="1" height="1" fill="#a01818"/><rect x="803" y="158" width="1" height="1" fill="#a01818"/><rect x="804" y="158" width="1" height="1" fill="#a01818"/><rect x="805" y="158" width="1" height="1" fill="#a01818"/><rect x="806" y="157" width="1" height="1" fill="#a01818"/><rect x="807" y="157" width="1" height="1" fill="#a01818"/><rect x="808" y="157" width="1" height="1" fill="#a01818"/><rect x="809" y="156" width="1" height="1" fill="#a01818"/><rect x="810" y="156" width="1" height="1" fill="#a01818"/><rect x="811" y="156" width="1" height="1" fill="#a01818"/><rect x="812" y="156" width="1" height="1" fill="#a01818"/><rect x="813" y="156" width="1" height="1" fill="#a01818"/><rect x="814" y="157" width="1" height="1" fill="#a01818"/><rect x="815" y="157" width="1" height="1" fill="#a01818"/><rect x="816" y="158" width="1" height="1" fill="#a01818"/><rect x="817" y="158" width="1" height="1" fill="#a01818"/><rect x="818" y="158" width="1" height="1" fill="#a01818"/><rect x="819" y="158" width="1" height="1" fill="#a01818"/><rect x="820" y="158" width="1" height="1" fill="#a01818"/><rect x="821" y="157" width="1" height="1" fill="#a01818"/><rect x="822" y="157" width="1" height="1" fill="#a01818"/><rect x="823" y="157" width="1" height="1" fill="#a01818"/><rect x="824" y="156" width="1" height="1" fill="#a01818"/><rect x="825" y="156" width="1" height="1" fill="#a01818"/><rect x="826" y="156" width="1" height="1" fill="#a01818"/><rect x="827" y="156" width="1" height="1" fill="#a01818"/><rect x="828" y="156" width="1" height="1" fill="#a01818"/><rect x="829" y="156" width="1" height="1" fill="#a01818"/><rect x="830" y="156" width="1" height="1" fill="#a01818"/><rect x="831" y="156" width="1" height="1" fill="#a01818"/><rect x="832" y="156" width="1" height="1" fill="#a01818"/><rect x="833" y="157" width="1" height="1" fill="#a01818"/><rect x="834" y="158" width="1" height="1" fill="#a01818"/><rect x="835" y="159" width="1" height="1" fill="#a01818"/><rect x="836" y="160" width="1" height="1" fill="#a01818"/><rect x="837" y="161" width="1" height="1" fill="#a01818"/><rect x="838" y="162" width="1" height="1" fill="#a01818"/><rect x="839" y="162" width="1" height="1" fill="#a01818"/><rect x="840" y="163" width="1" height="1" fill="#a01818"/><rect x="841" y="164" width="1" height="1" fill="#a01818"/><rect x="842" y="165" width="1" height="2" fill="#a01818"/><rect x="843" y="167" width="1" height="2" fill="#a01818"/><rect x="844" y="169" width="1" height="2" fill="#a01818"/><rect x="845" y="171" width="1" height="1" fill="#a01818"/><rect x="846" y="172" width="1" height="2" fill="#a01818"/><rect x="847" y="174" width="1" height="2" fill="#a01818"/><rect x="848" y="176" width="1" height="2" fill="#a01818"/><rect x="849" y="178" width="1" height="2" fill="#a01818"/><rect x="850" y="180" width="1" height="2" fill="#a01818"/><rect x="851" y="182" width="1" height="2" fill="#a01818"/><rect x="852" y="184" width="1" height="3" fill="#a01818"/><rect x="853" y="187" width="1" height="3" fill="#a01818"/><rect x="854" y="190" width="1" height="3" fill="#a01818"/><rect x="855" y="193" width="1" height="3" fill="#a01818"/><rect x="856" y="196" width="1" height="3" fill="#a01818"/><rect x="857" y="199" width="1" height="2" fill="#a01818"/><rect x="858" y="201" width="1" height="3" fill="#a01818"/><rect x="859" y="204" width="1" height="2" fill="#a01818"/><rect x="860" y="206" width="1" height="3" fill="#a01818"/><rect x="861" y="209" width="1" height="3" fill="#a01818"/><rect x="862" y="212" width="1" height="3" fill="#a01818"/><rect x="863" y="215" width="1" height="4" fill="#a01818"/><rect x="864" y="219" width="1" height="2" fill="#a01818"/><rect x="865" y="221" width="1" height="2" fill="#a01818"/><rect x="866" y="223" width="1" height="2" fill="#a01818"/><rect x="867" y="225" width="1" height="2" fill="#a01818"/><rect x="868" y="227" width="1" height="2" fill="#a01818"/><rect x="869" y="229" width="1" height="2" fill="#a01818"/><rect x="870" y="231" width="1" height="3" fill="#a01818"/><rect x="871" y="234" width="1" height="2" fill="#a01818"/><rect x="872" y="236" width="1" height="2" fill="#a01818"/><rect x="873" y="238" width="1" height="2" fill="#a01818"/><rect x="874" y="240" width="1" height="3" fill="#a01818"/><rect x="875" y="243" width="1" height="2" fill="#a01818"/><rect x="876" y="245" width="1" height="2" fill="#a01818"/><rect x="877" y="247" width="1" height="2" fill="#a01818"/><rect x="878" y="249" width="1" height="2" fill="#a01818"/><rect x="879" y="251" width="1" height="2" fill="#a01818"/><rect x="880" y="253" width="1" height="2" fill="#a01818"/><rect x="881" y="255" width="1" height="2" fill="#a01818"/><rect x="882" y="257" width="1" height="2" fill="#a01818"/><rect x="883" y="259" width="1" height="2" fill="#a01818"/><rect x="884" y="261" width="1" height="2" fill="#a01818"/><rect x="885" y="263" width="1" height="2" fill="#a01818"/><rect x="886" y="265" width="1" height="1" fill="#a01818"/><rect x="18" y="22" width="879" height="1" fill="#000"/><rect x="18" y="525" width="879" height="1" fill="#000"/><rect x="18" y="22" width="1" height="504" fill="#000"/><rect x="896" y="22" width="1" height="504" fill="#000"/><rect x="16" y="29" width="2" height="1" fill="#000"/><rect x="897" y="29" width="2" height="1" fill="#000"/><rect x="16" y="36" width="2" height="1" fill="#000"/><rect x="897" y="36" width="2" height="1" fill="#000"/><rect x="16" y="45" width="2" height="1" fill="#000"/><rect x="897" y="45" width="2" height="1" fill="#000"/><rect x="16" y="52" width="2" height="1" fill="#000"/><rect x="897" y="52" width="2" height="1" fill="#000"/><rect x="16" y="59" width="2" height="1" fill="#000"/><rect x="897" y="59" width="2" height="1" fill="#000"/><rect x="16" y="66" width="2" height="1" fill="#000"/><rect x="897" y="66" width="2" height="1" fill="#000"/><rect x="16" y="73" width="2" height="1" fill="#000"/><rect x="897" y="73" width="2" height="1" fill="#000"/><rect x="16" y="80" width="2" height="1" fill="#000"/><rect x="897" y="80" width="2" height="1" fill="#000"/><rect x="16" y="87" width="2" height="1" fill="#000"/><rect x="897" y="87" width="2" height="1" fill="#000"/><rect x="16" y="94" width="2" height="1" fill="#000"/><rect x="897" y="94" width="2" height="1" fill="#000"/><rect x="16" y="101" width="2" height="1" fill="#000"/><rect x="897" y="101" width="2" height="1" fill="#000"/><rect x="16" y="108" width="2" height="1" fill="#000"/><rect x="897" y="108" width="2" height="1" fill="#000"/><rect x="16" y="117" width="2" height="1" fill="#000"/><rect x="897" y="117" width="2" height="1" fill="#000"/><rect x="16" y="124" width="2" height="1" fill="#000"/><rect x="897" y="124" width="2" height="1" fill="#000"/><rect x="16" y="131" width="2" height="1" fill="#000"/><rect x="897" y="131" width="2" height="1" fill="#000"/><rect x="16" y="138" width="2" height="1" fill="#000"/><rect x="897" y="138" width="2" height="1" fill="#000"/><rect x="16" y="145" width="2" height="1" fill="#000"/><rect x="897" y="145" width="2" height="1" fill="#000"/><rect x="16" y="152" width="2" height="1" fill="#000"/><rect x="897" y="152" width="2" height="1" fill="#000"/><rect x="16" y="159" width="2" height="1" fill="#000"/><rect x="897" y="159" width="2" height="1" fill="#000"/><rect x="16" y="166" width="2" height="1" fill="#000"/><rect x="897" y="166" width="2" height="1" fill="#000"/><rect x="16" y="173" width="2" height="1" fill="#000"/><rect x="897" y="173" width="2" height="1" fill="#000"/><rect x="16" y="180" width="2" height="1" fill="#000"/><rect x="897" y="180" width="2" height="1" fill="#000"/><rect x="16" y="189" width="2" height="1" fill="#000"/><rect x="897" y="189" width="2" height="1" fill="#000"/><rect x="16" y="196" width="2" height="1" fill="#000"/><rect x="897" y="196" width="2" height="1" fill="#000"/><rect x="16" y="203" width="2" height="1" fill="#000"/><rect x="897" y="203" width="2" height="1" fill="#000"/><rect x="16" y="210" width="2" height="1" fill="#000"/><rect x="897" y="210" width="2" height="1" fill="#000"/><rect x="16" y="217" width="2" height="1" fill="#000"/><rect x="897" y="217" width="2" height="1" fill="#000"/><rect x="16" y="224" width="2" height="1" fill="#000"/><rect x="897" y="224" width="2" height="1" fill="#000"/><rect x="16" y="231" width="2" height="1" fill="#000"/><rect x="897" y="231" width="2" height="1" fill="#000"/><rect x="16" y="238" width="2" height="1" fill="#000"/><rect x="897" y="238" width="2" height="1" fill="#000"/><rect x="16" y="245" width="2" height="1" fill="#000"/><rect x="897" y="245" width="2" height="1" fill="#000"/><rect x="16" y="252" width="2" height="1" fill="#000"/><rect x="897" y="252" width="2" height="1" fill="#000"/><rect x="16" y="261" width="2" height="1" fill="#000"/><rect x="897" y="261" width="2" height="1" fill="#000"/><rect x="16" y="268" width="2" height="1" fill="#000"/><rect x="897" y="268" width="2" height="1" fill="#000"/><rect x="16" y="275" width="2" height="1" fill="#000"/><rect x="897" y="275" width="2" height="1" fill="#000"/><rect x="16" y="282" width="2" height="1" fill="#000"/><rect x="897" y="282" width="2" height="1" fill="#000"/><rect x="16" y="289" width="2" height="1" fill="#000"/><rect x="897" y="289" width="2" height="1" fill="#000"/><rect x="16" y="296" width="2" height="1" fill="#000"/><rect x="897" y="296" width="2" height="1" fill="#000"/><rect x="16" y="303" width="2" height="1" fill="#000"/><rect x="897" y="303" width="2" height="1" fill="#000"/><rect x="16" y="310" width="2" height="1" fill="#000"/><rect x="897" y="310" width="2" height="1" fill="#000"/><rect x="16" y="317" width="2" height="1" fill="#000"/><rect x="897" y="317" width="2" height="1" fill="#000"/><rect x="16" y="324" width="2" height="1" fill="#000"/><rect x="897" y="324" width="2" height="1" fill="#000"/><rect x="16" y="333" width="2" height="1" fill="#000"/><rect x="897" y="333" width="2" height="1" fill="#000"/><rect x="16" y="340" width="2" height="1" fill="#000"/><rect x="897" y="340" width="2" height="1" fill="#000"/><rect x="16" y="347" width="2" height="1" fill="#000"/><rect x="897" y="347" width="2" height="1" fill="#000"/><rect x="16" y="354" width="2" height="1" fill="#000"/><rect x="897" y="354" width="2" height="1" fill="#000"/><rect x="16" y="361" width="2" height="1" fill="#000"/><rect x="897" y="361" width="2" height="1" fill="#000"/><rect x="16" y="368" width="2" height="1" fill="#000"/><rect x="897" y="368" width="2" height="1" fill="#000"/><rect x="16" y="375" width="2" height="1" fill="#000"/><rect x="897" y="375" width="2" height="1" fill="#000"/><rect x="16" y="382" width="2" height="1" fill="#000"/><rect x="897" y="382" width="2" height="1" fill="#000"/><rect x="16" y="389" width="2" height="1" fill="#000"/><rect x="897" y="389" width="2" height="1" fill="#000"/><rect x="16" y="396" width="2" height="1" fill="#000"/><rect x="897" y="396" width="2" height="1" fill="#000"/><rect x="16" y="405" width="2" height="1" fill="#000"/><rect x="897" y="405" width="2" height="1" fill="#000"/><rect x="16" y="412" width="2" height="1" fill="#000"/><rect x="897" y="412" width="2" height="1" fill="#000"/><rect x="16" y="419" width="2" height="1" fill="#000"/><rect x="897" y="419" width="2" height="1" fill="#000"/><rect x="16" y="426" width="2" height="1" fill="#000"/><rect x="897" y="426" width="2" height="1" fill="#000"/><rect x="16" y="433" width="2" height="1" fill="#000"/><rect x="897" y="433" width="2" height="1" fill="#000"/><rect x="16" y="440" width="2" height="1" fill="#000"/><rect x="897" y="440" width="2" height="1" fill="#000"/><rect x="16" y="447" width="2" height="1" fill="#000"/><rect x="897" y="447" width="2" height="1" fill="#000"/><rect x="16" y="454" width="2" height="1" fill="#000"/><rect x="897" y="454" width="2" height="1" fill="#000"/><rect x="16" y="461" width="2" height="1" fill="#000"/><rect x="897" y="461" width="2" height="1" fill="#000"/><rect x="16" y="468" width="2" height="1" fill="#000"/><rect x="897" y="468" width="2" height="1" fill="#000"/><rect x="16" y="477" width="2" height="1" fill="#000"/><rect x="897" y="477" width="2" height="1" fill="#000"/><rect x="16" y="484" width="2" height="1" fill="#000"/><rect x="897" y="484" width="2" height="1" fill="#000"/><rect x="16" y="491" width="2" height="1" fill="#000"/><rect x="897" y="491" width="2" height="1" fill="#000"/><rect x="16" y="498" width="2" height="1" fill="#000"/><rect x="897" y="498" width="2" height="1" fill="#000"/><rect x="16" y="505" width="2" height="1" fill="#000"/><rect x="897" y="505" width="2" height="1" fill="#000"/><rect x="16" y="512" width="2" height="1" fill="#000"/><rect x="897" y="512" width="2" height="1" fill="#000"/><rect x="16" y="519" width="2" height="1" fill="#000"/><rect x="897" y="519" width="2" height="1" fill="#000"/><rect x="22" y="526" width="1" height="2" fill="#000"/><rect x="36" y="526" width="1" height="1" fill="#000"/><rect x="51" y="526" width="1" height="1" fill="#000"/><rect x="65" y="526" width="1" height="2" fill="#000"/><rect x="80" y="526" width="1" height="1" fill="#000"/><rect x="94" y="526" width="1" height="1" fill="#000"/><rect x="109" y="526" width="1" height="3" fill="#000"/><rect x="124" y="526" width="1" height="1" fill="#000"/><rect x="137" y="526" width="1" height="1" fill="#000"/><rect x="152" y="526" width="1" height="2" fill="#000"/><rect x="167" y="526" width="1" height="1" fill="#000"/><rect x="181" y="526" width="1" height="1" fill="#000"/><rect x="196" y="526" width="1" height="2" fill="#000"/><rect x="211" y="526" width="1" height="1" fill="#000"/><rect x="226" y="526" width="1" height="1" fill="#000"/><rect x="240" y="526" width="1" height="2" fill="#000"/><rect x="255" y="526" width="1" height="1" fill="#000"/><rect x="269" y="526" width="1" height="1" fill="#000"/><rect x="284" y="526" width="1" height="3" fill="#000"/><rect x="299" y="526" width="1" height="1" fill="#000"/><rect x="312" y="526" width="1" height="1" fill="#000"/><rect x="327" y="526" width="1" height="2" fill="#000"/><rect x="342" y="526" width="1" height="1" fill="#000"/><rect x="356" y="526" width="1" height="1" fill="#000"/><rect x="371" y="526" width="1" height="2" fill="#000"/><rect x="386" y="526" width="1" height="1" fill="#000"/><rect x="401" y="526" width="1" height="1" fill="#000"/><rect x="415" y="526" width="1" height="2" fill="#000"/><rect x="430" y="526" width="1" height="1" fill="#000"/><rect x="444" y="526" width="1" height="1" fill="#000"/><rect x="459" y="526" width="1" height="3" fill="#000"/><rect x="474" y="526" width="1" height="1" fill="#000"/><rect x="487" y="526" width="1" height="1" fill="#000"/><rect x="502" y="526" width="1" height="2" fill="#000"/><rect x="516" y="526" width="1" height="1" fill="#000"/><rect x="531" y="526" width="1" height="1" fill="#000"/><rect x="545" y="526" width="1" height="2" fill="#000"/><rect x="560" y="526" width="1" height="1" fill="#000"/><rect x="575" y="526" width="1" height="1" fill="#000"/><rect x="590" y="526" width="1" height="2" fill="#000"/><rect x="605" y="526" width="1" height="1" fill="#000"/><rect x="619" y="526" width="1" height="1" fill="#000"/><rect x="634" y="526" width="1" height="3" fill="#000"/><rect x="649" y="526" width="1" height="1" fill="#000"/><rect x="662" y="526" width="1" height="1" fill="#000"/><rect x="677" y="526" width="1" height="2" fill="#000"/><rect x="691" y="526" width="1" height="1" fill="#000"/><rect x="706" y="526" width="1" height="1" fill="#000"/><rect x="720" y="526" width="1" height="2" fill="#000"/><rect x="735" y="526" width="1" height="1" fill="#000"/><rect x="750" y="526" width="1" height="1" fill="#000"/><rect x="764" y="526" width="1" height="2" fill="#000"/><rect x="779" y="526" width="1" height="1" fill="#000"/><rect x="793" y="526" width="1" height="1" fill="#000"/><rect x="808" y="526" width="1" height="3" fill="#000"/><rect x="823" y="526" width="1" height="1" fill="#000"/><rect x="837" y="526" width="1" height="1" fill="#000"/><rect x="852" y="526" width="1" height="2" fill="#000"/><rect x="867" y="526" width="1" height="1" fill="#000"/><rect x="881" y="526" width="1" height="1" fill="#000"/></svg><svg width="980" height="560" style="position:absolute;left:0;top:0"><defs><filter id="al" x="0" y="0" width="100%" height="100%" color-interpolation-filters="sRGB"><feComponentTransfer><feFuncA type="discrete" tableValues="0 0 0 0 0 0 0 0 0 0 0 1 1 1 1 1 1 1 1 1"/></feComponentTransfer></filter></defs><filter id="al2" x="0" y="0" width="100%" height="100%" color-interpolation-filters="sRGB"><feComponentTransfer><feFuncA type="discrete" tableValues="0 0 0 0 1 1 1 1 1 1"/></feComponentTransfer></filter><g filter="url(#al)"><text x="18.1" y="14" font-size="15" fill="#000" letter-spacing="0">Birchcliff</text><text x="77.2" y="14" font-size="15" fill="#000" letter-spacing="-0.3">Energy</text><text x="127.1" y="14" font-size="15" fill="#000" letter-spacing="0">Ltd</text><text x="151.4" y="14" font-size="15" fill="#000" letter-spacing="0">(BIR)</text><text x="189.4" y="14" font-size="15" fill="#000" letter-spacing="0">5.9</text><text x="213.2" y="14" font-size="15" fill="#cc0000" letter-spacing="0">-0.14</text><text x="652.3" y="14" font-size="15" fill="#000" letter-spacing="0">www.fullermoney.com</text><text x="817.8" y="14" font-size="15" fill="#000" letter-spacing="0">13</text><text x="835.9" y="14" font-size="15" fill="#000" letter-spacing="0">Jun</text><text x="864.2" y="14" font-size="15" fill="#000" letter-spacing="-0.3">2012</text><text x="22" y="40" font-size="14" fill="#0000ff" text-anchor="start" >Weekly</text><text x="22" y="57" font-size="14" fill="#a01818" text-anchor="start" >EMA 200</text><text x="900" y="51" font-size="14" fill="#000" text-anchor="start" >16</text><text x="900" y="123" font-size="14" fill="#000" text-anchor="start" >14</text><text x="900" y="195" font-size="14" fill="#000" text-anchor="start" >12</text><text x="900" y="267" font-size="14" fill="#000" text-anchor="start" >10</text><text x="900" y="339" font-size="14" fill="#000" text-anchor="start" >8</text><text x="900" y="411" font-size="14" fill="#000" text-anchor="start" >6</text><text x="900" y="483" font-size="14" fill="#000" text-anchor="start" >4</text><text x="21.5" y="540" font-size="14" fill="#000" text-anchor="middle" >Jul</text><text x="65.5" y="540" font-size="14" fill="#000" text-anchor="middle" >Oct</text><text x="111.5" y="540" font-size="14" fill="#000" text-anchor="middle" letter-spacing="0.5">2008</text><text x="151.5" y="540" font-size="14" fill="#000" text-anchor="middle" >Apr</text><text x="195.5" y="540" font-size="14" fill="#000" text-anchor="middle" >Jul</text><text x="240.5" y="540" font-size="14" fill="#000" text-anchor="middle" >Oct</text><text x="286.5" y="540" font-size="14" fill="#000" text-anchor="middle" letter-spacing="0.5">2009</text><text x="326.5" y="540" font-size="14" fill="#000" text-anchor="middle" >Apr</text><text x="370.5" y="540" font-size="14" fill="#000" text-anchor="middle" >Jul</text><text x="415.5" y="540" font-size="14" fill="#000" text-anchor="middle" >Oct</text><text x="461.5" y="540" font-size="14" fill="#000" text-anchor="middle" letter-spacing="0.5">2010</text><text x="501.5" y="540" font-size="14" fill="#000" text-anchor="middle" >Apr</text><text x="544.5" y="540" font-size="14" fill="#000" text-anchor="middle" >Jul</text><text x="590.5" y="540" font-size="14" fill="#000" text-anchor="middle" >Oct</text><text x="636.5" y="540" font-size="14" fill="#000" text-anchor="middle" letter-spacing="0.5">2011</text><text x="676.5" y="540" font-size="14" fill="#000" text-anchor="middle" >Apr</text><text x="719.5" y="540" font-size="14" fill="#000" text-anchor="middle" >Jul</text><text x="764.5" y="540" font-size="14" fill="#000" text-anchor="middle" >Oct</text><text x="810.5" y="540" font-size="14" fill="#000" text-anchor="middle" letter-spacing="0.5">2012</text><text x="851.5" y="540" font-size="14" fill="#000" text-anchor="middle" >Apr</text></g><g filter="url(#al2)"><text x="895" y="556" font-size="10" fill="#888888" text-anchor="end" letter-spacing="-0.3">© 2012 Stockcube Research Ltd</text></g></svg></div></body></html>
